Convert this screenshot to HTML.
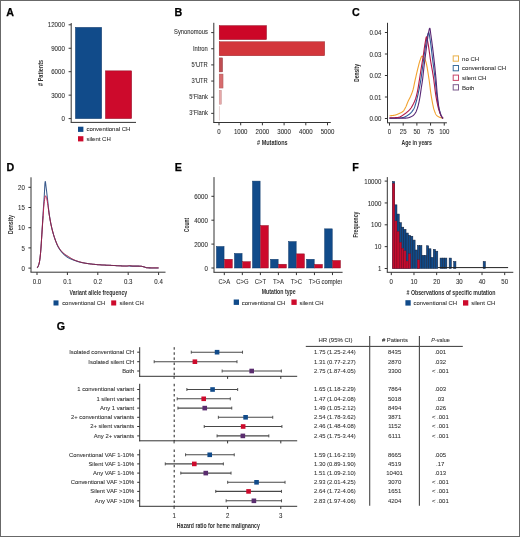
<!DOCTYPE html>
<html><head><meta charset="utf-8"><style>
html,body{margin:0;padding:0;background:#fff;width:520px;height:537px;overflow:hidden;}
svg{display:block;will-change:transform;}
text{font-family:"Liberation Sans", sans-serif;}
</style></head><body>
<svg width="520" height="537" viewBox="0 0 520 537" font-family='"Liberation Sans", sans-serif'>
<defs><clipPath id="clipE"><rect x="300" y="270" width="42.0" height="20"/></clipPath></defs>
<rect x="0" y="0" width="520" height="537" fill="#fff"/>
<text x="6.2" y="15.9" font-size="10.7" text-anchor="start" fill="#000" stroke="#000" stroke-width="0.25" font-weight="bold" >A</text>
<line x1="71.2" y1="23" x2="71.2" y2="122.4" stroke="#333" stroke-width="1" />
<line x1="70.7" y1="122.4" x2="136" y2="122.4" stroke="#333" stroke-width="1" />
<line x1="68.60000000000001" y1="118.6" x2="71.2" y2="118.6" stroke="#333" stroke-width="1" />
<text x="64.8" y="121.19999999999999" font-size="6.45" text-anchor="end" fill="#303030" stroke="#303030" stroke-width="0.08" font-weight="normal" textLength="3.39" lengthAdjust="spacingAndGlyphs" >0</text>
<line x1="68.60000000000001" y1="95.14999999999999" x2="71.2" y2="95.14999999999999" stroke="#333" stroke-width="1" />
<text x="64.8" y="97.74999999999999" font-size="6.45" text-anchor="end" fill="#303030" stroke="#303030" stroke-width="0.08" font-weight="normal" textLength="13.57" lengthAdjust="spacingAndGlyphs" >3000</text>
<line x1="68.60000000000001" y1="71.69999999999999" x2="71.2" y2="71.69999999999999" stroke="#333" stroke-width="1" />
<text x="64.8" y="74.29999999999998" font-size="6.45" text-anchor="end" fill="#303030" stroke="#303030" stroke-width="0.08" font-weight="normal" textLength="13.57" lengthAdjust="spacingAndGlyphs" >6000</text>
<line x1="68.60000000000001" y1="48.25" x2="71.2" y2="48.25" stroke="#333" stroke-width="1" />
<text x="64.8" y="50.85" font-size="6.45" text-anchor="end" fill="#303030" stroke="#303030" stroke-width="0.08" font-weight="normal" textLength="13.57" lengthAdjust="spacingAndGlyphs" >9000</text>
<line x1="68.60000000000001" y1="24.799999999999997" x2="71.2" y2="24.799999999999997" stroke="#333" stroke-width="1" />
<text x="64.8" y="27.4" font-size="6.45" text-anchor="end" fill="#303030" stroke="#303030" stroke-width="0.08" font-weight="normal" textLength="16.96" lengthAdjust="spacingAndGlyphs" >12000</text>
<rect x="75.45" y="27.394999999999996" width="26.2" height="91.205" fill="#114b8a" stroke="#0b3566" stroke-width="0.5"/>
<rect x="105.45" y="70.85" width="26.2" height="47.75" fill="#cd0a2c" stroke="#8e0c22" stroke-width="0.5"/>
<text transform="translate(43.2,72.9) rotate(-90)" x="0" y="0" font-size="7.6" text-anchor="middle" fill="#303030" font-weight="bold" textLength="26" lengthAdjust="spacingAndGlyphs"># Patients</text>
<rect x="78" y="126.7" width="5.4" height="5.2" fill="#114b8a" />
<text x="86.4" y="131.3" font-size="6.0" text-anchor="start" fill="#303030" stroke="#303030" stroke-width="0.08" font-weight="normal" textLength="44.02" lengthAdjust="spacingAndGlyphs" >conventional CH</text>
<rect x="78" y="136.2" width="5.4" height="5.2" fill="#cd0a2c" />
<text x="86.4" y="140.6" font-size="6.0" text-anchor="start" fill="#303030" stroke="#303030" stroke-width="0.08" font-weight="normal" textLength="24.34" lengthAdjust="spacingAndGlyphs" >silent CH</text>
<text x="174.6" y="15.9" font-size="10.7" text-anchor="start" fill="#000" stroke="#000" stroke-width="0.25" font-weight="bold" >B</text>
<line x1="213.8" y1="22.8" x2="213.8" y2="122.5" stroke="#333" stroke-width="1" />
<line x1="213.3" y1="122.5" x2="330.8" y2="122.5" stroke="#333" stroke-width="1" />
<line x1="211.20000000000002" y1="32.6" x2="213.8" y2="32.6" stroke="#333" stroke-width="1" />
<text x="207.8" y="34.4" font-size="6.6" text-anchor="end" fill="#303030" stroke="#303030" stroke-width="0.08" font-weight="normal" textLength="33.74" lengthAdjust="spacingAndGlyphs" >Synonomous</text>
<rect x="219.20" y="25.60" width="47.34" height="14.0" fill="#cc0627" stroke="#8a0a1e" stroke-width="0.45"/>
<line x1="211.20000000000002" y1="48.75" x2="213.8" y2="48.75" stroke="#333" stroke-width="1" />
<text x="207.8" y="50.55" font-size="6.6" text-anchor="end" fill="#303030" stroke="#303030" stroke-width="0.08" font-weight="normal" textLength="14.78" lengthAdjust="spacingAndGlyphs" >Intron</text>
<rect x="219.20" y="41.75" width="105.50" height="14.0" fill="#d3363b" stroke="#96242a" stroke-width="0.45"/>
<line x1="211.20000000000002" y1="64.9" x2="213.8" y2="64.9" stroke="#333" stroke-width="1" />
<text x="207.8" y="66.7" font-size="6.6" text-anchor="end" fill="#303030" stroke="#303030" stroke-width="0.08" font-weight="normal" textLength="16.2" lengthAdjust="spacingAndGlyphs" >5'UTR</text>
<rect x="219.20" y="57.90" width="3.40" height="14.0" fill="#bf4d52" stroke="#8e3a3e" stroke-width="0.45"/>
<line x1="211.20000000000002" y1="81.05" x2="213.8" y2="81.05" stroke="#333" stroke-width="1" />
<text x="207.8" y="82.85" font-size="6.6" text-anchor="end" fill="#303030" stroke="#303030" stroke-width="0.08" font-weight="normal" textLength="16.2" lengthAdjust="spacingAndGlyphs" >3'UTR</text>
<rect x="219.20" y="74.05" width="3.83" height="14.0" fill="#d76c6e" stroke="#a65456" stroke-width="0.45"/>
<line x1="211.20000000000002" y1="97.19999999999999" x2="213.8" y2="97.19999999999999" stroke="#333" stroke-width="1" />
<text x="207.8" y="98.99999999999999" font-size="6.6" text-anchor="end" fill="#303030" stroke="#303030" stroke-width="0.08" font-weight="normal" textLength="18.45" lengthAdjust="spacingAndGlyphs" >5'Flank</text>
<rect x="219.20" y="90.20" width="2.20" height="14.0" fill="#e6a7a8" stroke="#c08a8b" stroke-width="0.45"/>
<line x1="211.20000000000002" y1="113.35" x2="213.8" y2="113.35" stroke="#333" stroke-width="1" />
<text x="207.8" y="115.14999999999999" font-size="6.6" text-anchor="end" fill="#303030" stroke="#303030" stroke-width="0.08" font-weight="normal" textLength="18.45" lengthAdjust="spacingAndGlyphs" >3'Flank</text>
<rect x="219.20" y="106.35" width="0.50" height="14.0" fill="#ecd2d3" stroke="#d8bcbd" stroke-width="0.45"/>
<line x1="219.0" y1="122.5" x2="219.0" y2="125.3" stroke="#333" stroke-width="1" />
<text x="219.0" y="133.8" font-size="6.45" text-anchor="middle" fill="#303030" stroke="#303030" stroke-width="0.08" font-weight="normal" textLength="3.39" lengthAdjust="spacingAndGlyphs" >0</text>
<line x1="240.7" y1="122.5" x2="240.7" y2="125.3" stroke="#333" stroke-width="1" />
<text x="240.7" y="133.8" font-size="6.45" text-anchor="middle" fill="#303030" stroke="#303030" stroke-width="0.08" font-weight="normal" textLength="13.57" lengthAdjust="spacingAndGlyphs" >1000</text>
<line x1="262.4" y1="122.5" x2="262.4" y2="125.3" stroke="#333" stroke-width="1" />
<text x="262.4" y="133.8" font-size="6.45" text-anchor="middle" fill="#303030" stroke="#303030" stroke-width="0.08" font-weight="normal" textLength="13.57" lengthAdjust="spacingAndGlyphs" >2000</text>
<line x1="284.1" y1="122.5" x2="284.1" y2="125.3" stroke="#333" stroke-width="1" />
<text x="284.1" y="133.8" font-size="6.45" text-anchor="middle" fill="#303030" stroke="#303030" stroke-width="0.08" font-weight="normal" textLength="13.57" lengthAdjust="spacingAndGlyphs" >3000</text>
<line x1="305.8" y1="122.5" x2="305.8" y2="125.3" stroke="#333" stroke-width="1" />
<text x="305.8" y="133.8" font-size="6.45" text-anchor="middle" fill="#303030" stroke="#303030" stroke-width="0.08" font-weight="normal" textLength="13.57" lengthAdjust="spacingAndGlyphs" >4000</text>
<line x1="327.5" y1="122.5" x2="327.5" y2="125.3" stroke="#333" stroke-width="1" />
<text x="327.5" y="133.8" font-size="6.45" text-anchor="middle" fill="#303030" stroke="#303030" stroke-width="0.08" font-weight="normal" textLength="13.57" lengthAdjust="spacingAndGlyphs" >5000</text>
<text x="272.3" y="144.6" font-size="7.2" text-anchor="middle" fill="#303030" stroke="#303030" stroke-width="0" font-weight="bold" textLength="30.5" lengthAdjust="spacingAndGlyphs" ># Mutations</text>
<text x="352.0" y="15.9" font-size="10.7" text-anchor="start" fill="#000" stroke="#000" stroke-width="0.25" font-weight="bold" >C</text>
<line x1="387.5" y1="22.8" x2="387.5" y2="122.8" stroke="#333" stroke-width="1" />
<line x1="387.0" y1="122.8" x2="446.9" y2="122.8" stroke="#333" stroke-width="1" />
<line x1="384.9" y1="118.5" x2="387.5" y2="118.5" stroke="#333" stroke-width="1" />
<text x="381.4" y="121.1" font-size="6.45" text-anchor="end" fill="#303030" stroke="#303030" stroke-width="0.08" font-weight="normal" textLength="11.87" lengthAdjust="spacingAndGlyphs" >0.00</text>
<line x1="384.9" y1="97.0" x2="387.5" y2="97.0" stroke="#333" stroke-width="1" />
<text x="381.4" y="99.6" font-size="6.45" text-anchor="end" fill="#303030" stroke="#303030" stroke-width="0.08" font-weight="normal" textLength="11.87" lengthAdjust="spacingAndGlyphs" >0.01</text>
<line x1="384.9" y1="75.5" x2="387.5" y2="75.5" stroke="#333" stroke-width="1" />
<text x="381.4" y="78.1" font-size="6.45" text-anchor="end" fill="#303030" stroke="#303030" stroke-width="0.08" font-weight="normal" textLength="11.87" lengthAdjust="spacingAndGlyphs" >0.02</text>
<line x1="384.9" y1="54.0" x2="387.5" y2="54.0" stroke="#333" stroke-width="1" />
<text x="381.4" y="56.6" font-size="6.45" text-anchor="end" fill="#303030" stroke="#303030" stroke-width="0.08" font-weight="normal" textLength="11.87" lengthAdjust="spacingAndGlyphs" >0.03</text>
<line x1="384.9" y1="32.5" x2="387.5" y2="32.5" stroke="#333" stroke-width="1" />
<text x="381.4" y="35.1" font-size="6.45" text-anchor="end" fill="#303030" stroke="#303030" stroke-width="0.08" font-weight="normal" textLength="11.87" lengthAdjust="spacingAndGlyphs" >0.04</text>
<line x1="389.5" y1="122.8" x2="389.5" y2="125.6" stroke="#333" stroke-width="1" />
<text x="389.5" y="133.9" font-size="6.45" text-anchor="middle" fill="#303030" stroke="#303030" stroke-width="0.08" font-weight="normal" textLength="3.39" lengthAdjust="spacingAndGlyphs" >0</text>
<line x1="403.1875" y1="122.8" x2="403.1875" y2="125.6" stroke="#333" stroke-width="1" />
<text x="403.1875" y="133.9" font-size="6.45" text-anchor="middle" fill="#303030" stroke="#303030" stroke-width="0.08" font-weight="normal" textLength="6.79" lengthAdjust="spacingAndGlyphs" >25</text>
<line x1="416.875" y1="122.8" x2="416.875" y2="125.6" stroke="#333" stroke-width="1" />
<text x="416.875" y="133.9" font-size="6.45" text-anchor="middle" fill="#303030" stroke="#303030" stroke-width="0.08" font-weight="normal" textLength="6.79" lengthAdjust="spacingAndGlyphs" >50</text>
<line x1="430.5625" y1="122.8" x2="430.5625" y2="125.6" stroke="#333" stroke-width="1" />
<text x="430.5625" y="133.9" font-size="6.45" text-anchor="middle" fill="#303030" stroke="#303030" stroke-width="0.08" font-weight="normal" textLength="6.79" lengthAdjust="spacingAndGlyphs" >75</text>
<line x1="444.25" y1="122.8" x2="444.25" y2="125.6" stroke="#333" stroke-width="1" />
<text x="444.25" y="133.9" font-size="6.45" text-anchor="middle" fill="#303030" stroke="#303030" stroke-width="0.08" font-weight="normal" textLength="10.18" lengthAdjust="spacingAndGlyphs" >100</text>
<text x="416.7" y="145.0" font-size="7.2" text-anchor="middle" fill="#303030" stroke="#303030" stroke-width="0" font-weight="bold" textLength="30.5" lengthAdjust="spacingAndGlyphs" >Age in years</text>
<text transform="translate(358.6,72.9) rotate(-90)" x="0" y="0" font-size="7.2" text-anchor="middle" fill="#303030" font-weight="bold" textLength="17.7" lengthAdjust="spacingAndGlyphs">Density</text>
<path d="M389.50,115.70 L389.68,115.70 L389.86,115.70 L390.04,115.70 L390.22,115.69 L390.40,115.68 L390.58,115.68 L390.76,115.67 L390.94,115.65 L391.12,115.64 L391.29,115.63 L391.47,115.61 L391.65,115.59 L391.83,115.58 L392.01,115.56 L392.19,115.54 L392.37,115.52 L392.55,115.50 L392.73,115.48 L392.91,115.45 L393.09,115.43 L393.27,115.41 L393.45,115.38 L393.63,115.36 L393.81,115.33 L393.99,115.31 L394.17,115.28 L394.35,115.25 L394.52,115.22 L394.70,115.19 L394.88,115.15 L395.06,115.11 L395.24,115.06 L395.42,115.01 L395.60,114.96 L395.78,114.90 L395.96,114.84 L396.14,114.78 L396.32,114.72 L396.50,114.65 L396.68,114.58 L396.86,114.51 L397.04,114.44 L397.22,114.37 L397.40,114.29 L397.58,114.22 L397.75,114.14 L397.93,114.06 L398.11,113.98 L398.29,113.90 L398.47,113.82 L398.65,113.75 L398.83,113.67 L399.01,113.59 L399.19,113.51 L399.37,113.43 L399.55,113.35 L399.73,113.27 L399.91,113.19 L400.09,113.11 L400.27,113.03 L400.45,112.94 L400.63,112.86 L400.81,112.77 L400.98,112.68 L401.16,112.58 L401.34,112.49 L401.52,112.38 L401.70,112.28 L401.88,112.17 L402.06,112.05 L402.24,111.93 L402.42,111.80 L402.60,111.67 L402.78,111.53 L402.96,111.39 L403.14,111.23 L403.32,111.07 L403.50,110.87 L403.68,110.66 L403.86,110.41 L404.04,110.15 L404.21,109.87 L404.39,109.57 L404.57,109.26 L404.75,108.93 L404.93,108.60 L405.11,108.26 L405.29,107.91 L405.47,107.56 L405.65,107.21 L405.83,106.86 L406.01,106.48 L406.19,106.07 L406.37,105.64 L406.55,105.20 L406.73,104.75 L406.91,104.29 L407.09,103.82 L407.27,103.36 L407.44,102.90 L407.62,102.45 L407.80,102.01 L407.98,101.60 L408.16,101.20 L408.34,100.82 L408.52,100.45 L408.70,100.09 L408.88,99.75 L409.06,99.40 L409.24,99.07 L409.42,98.73 L409.60,98.39 L409.78,98.04 L409.96,97.68 L410.14,97.32 L410.32,96.94 L410.50,96.54 L410.67,96.13 L410.85,95.72 L411.03,95.30 L411.21,94.87 L411.39,94.43 L411.57,93.99 L411.75,93.53 L411.93,93.05 L412.11,92.57 L412.29,92.06 L412.47,91.53 L412.65,90.98 L412.83,90.41 L413.01,89.81 L413.19,89.17 L413.37,88.45 L413.55,87.68 L413.73,86.85 L413.90,85.99 L414.08,85.11 L414.26,84.21 L414.44,83.32 L414.62,82.44 L414.80,81.59 L414.98,80.77 L415.16,79.97 L415.34,79.18 L415.52,78.38 L415.70,77.58 L415.88,76.79 L416.06,76.00 L416.24,75.21 L416.42,74.43 L416.60,73.65 L416.78,72.88 L416.96,72.12 L417.14,71.36 L417.31,70.62 L417.49,69.88 L417.67,69.15 L417.85,68.44 L418.03,67.73 L418.21,67.02 L418.39,66.30 L418.57,65.58 L418.75,64.87 L418.93,64.17 L419.11,63.48 L419.29,62.81 L419.47,62.17 L419.65,61.55 L419.83,60.98 L420.01,60.44 L420.19,59.95 L420.37,59.46 L420.54,58.96 L420.72,58.45 L420.90,57.96 L421.08,57.49 L421.26,57.07 L421.44,56.72 L421.62,56.43 L421.80,56.24 L421.98,56.15 L422.16,56.16 L422.34,56.20 L422.52,56.27 L422.70,56.37 L422.88,56.49 L423.06,56.63 L423.24,56.78 L423.42,56.94 L423.60,57.11 L423.77,57.28 L423.95,57.49 L424.13,57.73 L424.31,58.01 L424.49,58.33 L424.67,58.68 L424.85,59.07 L425.03,59.48 L425.21,59.92 L425.39,60.38 L425.57,60.87 L425.75,61.38 L425.93,61.92 L426.11,62.55 L426.29,63.25 L426.47,64.03 L426.65,64.87 L426.83,65.77 L427.00,66.72 L427.18,67.72 L427.36,68.76 L427.54,69.84 L427.72,70.94 L427.90,72.07 L428.08,73.21 L428.26,74.36 L428.44,75.51 L428.62,76.65 L428.80,77.79 L428.98,78.97 L429.16,80.22 L429.34,81.55 L429.52,82.92 L429.70,84.34 L429.88,85.78 L430.06,87.22 L430.23,88.66 L430.41,90.07 L430.59,91.45 L430.77,92.77 L430.95,94.02 L431.13,95.18 L431.31,96.25 L431.49,97.31 L431.67,98.36 L431.85,99.40 L432.03,100.42 L432.21,101.42 L432.39,102.39 L432.57,103.34 L432.75,104.26 L432.93,105.15 L433.11,105.99 L433.29,106.80 L433.46,107.56 L433.64,108.27 L433.82,108.93 L434.00,109.53 L434.18,110.08 L434.36,110.61 L434.54,111.12 L434.72,111.61 L434.90,112.09 L435.08,112.54 L435.26,112.97 L435.44,113.38 L435.62,113.76 L435.80,114.11 L435.98,114.43 L436.16,114.72 L436.34,114.98 L436.52,115.20 L436.69,115.39 L436.87,115.56 L437.05,115.73 L437.23,115.88 L437.41,116.03 L437.59,116.16 L437.77,116.29 L437.95,116.41 L438.13,116.53 L438.31,116.64 L438.49,116.74 L438.67,116.83 L438.85,116.92 L439.03,117.01 L439.21,117.09 L439.39,117.17 L439.57,117.24 L439.75,117.32 L439.92,117.39 L440.10,117.46 L440.28,117.53 L440.46,117.60 L440.64,117.67 L440.82,117.73 L441.00,117.79 L441.18,117.85 L441.36,117.91 L441.54,117.97 L441.72,118.02 L441.90,118.06 L442.08,118.11 L442.26,118.15 L442.44,118.19 L442.62,118.22 L442.80,118.24 L442.98,118.27 L443.15,118.28" fill="none" stroke="#f2a22e" stroke-width="1.1" stroke-linejoin="round"/>
<path d="M389.50,118.28 L389.68,118.28 L389.86,118.28 L390.04,118.28 L390.22,118.28 L390.40,118.28 L390.58,118.28 L390.76,118.28 L390.94,118.28 L391.12,118.27 L391.29,118.27 L391.47,118.27 L391.65,118.27 L391.83,118.26 L392.01,118.26 L392.19,118.26 L392.37,118.25 L392.55,118.25 L392.73,118.24 L392.91,118.24 L393.09,118.23 L393.27,118.23 L393.45,118.22 L393.63,118.22 L393.81,118.21 L393.99,118.21 L394.17,118.20 L394.35,118.19 L394.52,118.19 L394.70,118.18 L394.88,118.17 L395.06,118.16 L395.24,118.16 L395.42,118.15 L395.60,118.14 L395.78,118.13 L395.96,118.12 L396.14,118.11 L396.32,118.10 L396.50,118.09 L396.68,118.08 L396.86,118.07 L397.04,118.06 L397.22,118.05 L397.40,118.04 L397.58,118.03 L397.75,118.02 L397.93,118.01 L398.11,117.99 L398.29,117.98 L398.47,117.97 L398.65,117.96 L398.83,117.94 L399.01,117.93 L399.19,117.92 L399.37,117.90 L399.55,117.89 L399.73,117.88 L399.91,117.86 L400.09,117.85 L400.27,117.83 L400.45,117.82 L400.63,117.80 L400.81,117.79 L400.98,117.77 L401.16,117.75 L401.34,117.74 L401.52,117.72 L401.70,117.70 L401.88,117.69 L402.06,117.67 L402.24,117.65 L402.42,117.63 L402.60,117.61 L402.78,117.58 L402.96,117.55 L403.14,117.51 L403.32,117.47 L403.50,117.43 L403.68,117.37 L403.86,117.32 L404.04,117.26 L404.21,117.19 L404.39,117.12 L404.57,117.05 L404.75,116.98 L404.93,116.90 L405.11,116.81 L405.29,116.73 L405.47,116.64 L405.65,116.54 L405.83,116.45 L406.01,116.35 L406.19,116.25 L406.37,116.14 L406.55,116.04 L406.73,115.93 L406.91,115.82 L407.09,115.70 L407.27,115.59 L407.44,115.47 L407.62,115.35 L407.80,115.23 L407.98,115.11 L408.16,114.99 L408.34,114.87 L408.52,114.74 L408.70,114.62 L408.88,114.49 L409.06,114.37 L409.24,114.24 L409.42,114.10 L409.60,113.96 L409.78,113.82 L409.96,113.67 L410.14,113.51 L410.32,113.35 L410.50,113.18 L410.67,113.01 L410.85,112.83 L411.03,112.64 L411.21,112.45 L411.39,112.25 L411.57,112.04 L411.75,111.83 L411.93,111.61 L412.11,111.38 L412.29,111.14 L412.47,110.90 L412.65,110.65 L412.83,110.39 L413.01,110.12 L413.19,109.84 L413.37,109.55 L413.55,109.26 L413.73,108.95 L413.90,108.63 L414.08,108.29 L414.26,107.90 L414.44,107.46 L414.62,106.99 L414.80,106.48 L414.98,105.93 L415.16,105.36 L415.34,104.77 L415.52,104.16 L415.70,103.53 L415.88,102.90 L416.06,102.26 L416.24,101.62 L416.42,100.98 L416.60,100.32 L416.78,99.63 L416.96,98.93 L417.14,98.20 L417.31,97.45 L417.49,96.69 L417.67,95.91 L417.85,95.11 L418.03,94.30 L418.21,93.48 L418.39,92.65 L418.57,91.81 L418.75,90.96 L418.93,90.11 L419.11,89.24 L419.29,88.36 L419.47,87.47 L419.65,86.56 L419.83,85.63 L420.01,84.67 L420.19,83.69 L420.37,82.69 L420.54,81.65 L420.72,80.58 L420.90,79.47 L421.08,78.30 L421.26,77.07 L421.44,75.79 L421.62,74.47 L421.80,73.12 L421.98,71.74 L422.16,70.36 L422.34,68.97 L422.52,67.59 L422.70,66.23 L422.88,64.90 L423.06,63.58 L423.24,62.24 L423.42,60.90 L423.60,59.56 L423.77,58.22 L423.95,56.88 L424.13,55.56 L424.31,54.26 L424.49,52.98 L424.67,51.74 L424.85,50.52 L425.03,49.31 L425.21,48.08 L425.39,46.85 L425.57,45.63 L425.75,44.44 L425.93,43.29 L426.11,42.19 L426.29,41.15 L426.47,40.19 L426.65,39.32 L426.83,38.54 L427.00,37.74 L427.18,36.93 L427.36,36.13 L427.54,35.36 L427.72,34.64 L427.90,34.00 L428.08,33.44 L428.26,32.99 L428.44,32.68 L428.62,32.52 L428.80,32.56 L428.98,32.97 L429.16,33.69 L429.34,34.64 L429.52,35.74 L429.70,36.92 L429.88,38.09 L430.06,39.19 L430.23,40.31 L430.41,41.51 L430.59,42.79 L430.77,44.12 L430.95,45.51 L431.13,46.95 L431.31,48.42 L431.49,49.92 L431.67,51.44 L431.85,52.97 L432.03,54.49 L432.21,56.01 L432.39,57.51 L432.57,58.97 L432.75,60.41 L432.93,61.81 L433.11,63.19 L433.29,64.56 L433.46,65.93 L433.64,67.30 L433.82,68.67 L434.00,70.05 L434.18,71.44 L434.36,72.86 L434.54,74.30 L434.72,75.78 L434.90,77.29 L435.08,78.87 L435.26,80.55 L435.44,82.31 L435.62,84.12 L435.80,85.95 L435.98,87.78 L436.16,89.58 L436.34,91.30 L436.52,92.94 L436.69,94.46 L436.87,95.82 L437.05,97.11 L437.23,98.38 L437.41,99.63 L437.59,100.84 L437.77,102.02 L437.95,103.16 L438.13,104.26 L438.31,105.30 L438.49,106.28 L438.67,107.20 L438.85,108.04 L439.03,108.81 L439.21,109.50 L439.39,110.11 L439.57,110.70 L439.75,111.28 L439.92,111.86 L440.10,112.43 L440.28,112.98 L440.46,113.53 L440.64,114.05 L440.82,114.56 L441.00,115.05 L441.18,115.51 L441.36,115.95 L441.54,116.36 L441.72,116.73 L441.90,117.07 L442.08,117.38 L442.26,117.64 L442.44,117.86 L442.62,118.04 L442.80,118.17 L442.98,118.26 L443.15,118.28" fill="none" stroke="#2c5a98" stroke-width="1.1" stroke-linejoin="round"/>
<path d="M389.50,117.86 L389.68,117.85 L389.86,117.85 L390.04,117.85 L390.22,117.85 L390.40,117.85 L390.58,117.85 L390.76,117.85 L390.94,117.84 L391.12,117.84 L391.29,117.84 L391.47,117.83 L391.65,117.83 L391.83,117.82 L392.01,117.82 L392.19,117.81 L392.37,117.81 L392.55,117.80 L392.73,117.79 L392.91,117.79 L393.09,117.78 L393.27,117.77 L393.45,117.76 L393.63,117.76 L393.81,117.75 L393.99,117.74 L394.17,117.73 L394.35,117.72 L394.52,117.71 L394.70,117.70 L394.88,117.69 L395.06,117.68 L395.24,117.67 L395.42,117.65 L395.60,117.64 L395.78,117.63 L395.96,117.62 L396.14,117.60 L396.32,117.59 L396.50,117.58 L396.68,117.56 L396.86,117.55 L397.04,117.53 L397.22,117.52 L397.40,117.50 L397.58,117.49 L397.75,117.47 L397.93,117.46 L398.11,117.44 L398.29,117.42 L398.47,117.40 L398.65,117.37 L398.83,117.33 L399.01,117.28 L399.19,117.23 L399.37,117.17 L399.55,117.11 L399.73,117.04 L399.91,116.96 L400.09,116.88 L400.27,116.79 L400.45,116.70 L400.63,116.60 L400.81,116.50 L400.98,116.40 L401.16,116.29 L401.34,116.18 L401.52,116.07 L401.70,115.95 L401.88,115.84 L402.06,115.72 L402.24,115.60 L402.42,115.48 L402.60,115.35 L402.78,115.23 L402.96,115.11 L403.14,114.99 L403.32,114.87 L403.50,114.75 L403.68,114.63 L403.86,114.51 L404.04,114.40 L404.21,114.28 L404.39,114.16 L404.57,114.04 L404.75,113.92 L404.93,113.79 L405.11,113.66 L405.29,113.53 L405.47,113.40 L405.65,113.26 L405.83,113.12 L406.01,112.98 L406.19,112.84 L406.37,112.70 L406.55,112.55 L406.73,112.40 L406.91,112.25 L407.09,112.10 L407.27,111.94 L407.44,111.79 L407.62,111.63 L407.80,111.47 L407.98,111.31 L408.16,111.15 L408.34,110.98 L408.52,110.82 L408.70,110.65 L408.88,110.48 L409.06,110.30 L409.24,110.12 L409.42,109.94 L409.60,109.75 L409.78,109.56 L409.96,109.36 L410.14,109.15 L410.32,108.94 L410.50,108.72 L410.67,108.48 L410.85,108.24 L411.03,107.99 L411.21,107.72 L411.39,107.44 L411.57,107.16 L411.75,106.86 L411.93,106.56 L412.11,106.25 L412.29,105.93 L412.47,105.60 L412.65,105.27 L412.83,104.93 L413.01,104.59 L413.19,104.25 L413.37,103.90 L413.55,103.55 L413.73,103.19 L413.90,102.82 L414.08,102.44 L414.26,102.06 L414.44,101.65 L414.62,101.24 L414.80,100.81 L414.98,100.36 L415.16,99.89 L415.34,99.41 L415.52,98.90 L415.70,98.35 L415.88,97.78 L416.06,97.17 L416.24,96.52 L416.42,95.84 L416.60,95.14 L416.78,94.40 L416.96,93.64 L417.14,92.85 L417.31,92.04 L417.49,91.21 L417.67,90.34 L417.85,89.41 L418.03,88.40 L418.21,87.34 L418.39,86.24 L418.57,85.12 L418.75,83.98 L418.93,82.84 L419.11,81.71 L419.29,80.60 L419.47,79.47 L419.65,78.33 L419.83,77.18 L420.01,76.02 L420.19,74.86 L420.37,73.69 L420.54,72.53 L420.72,71.36 L420.90,70.21 L421.08,69.06 L421.26,67.93 L421.44,66.81 L421.62,65.71 L421.80,64.61 L421.98,63.53 L422.16,62.44 L422.34,61.36 L422.52,60.27 L422.70,59.17 L422.88,58.06 L423.06,56.93 L423.24,55.79 L423.42,54.61 L423.60,53.38 L423.77,52.10 L423.95,50.80 L424.13,49.50 L424.31,48.21 L424.49,46.96 L424.67,45.75 L424.85,44.61 L425.03,43.56 L425.21,42.56 L425.39,41.49 L425.57,40.40 L425.75,39.35 L425.93,38.40 L426.11,37.62 L426.29,37.07 L426.47,36.81 L426.65,36.90 L426.83,37.29 L427.00,37.93 L427.18,38.76 L427.36,39.69 L427.54,40.68 L427.72,41.65 L427.90,42.56 L428.08,43.53 L428.26,44.57 L428.44,45.68 L428.62,46.85 L428.80,48.07 L428.98,49.32 L429.16,50.60 L429.34,51.90 L429.52,53.20 L429.70,54.51 L429.88,55.80 L430.06,57.07 L430.23,58.31 L430.41,59.50 L430.59,60.64 L430.77,61.75 L430.95,62.82 L431.13,63.87 L431.31,64.91 L431.49,65.93 L431.67,66.94 L431.85,67.94 L432.03,68.95 L432.21,69.95 L432.39,70.97 L432.57,72.00 L432.75,73.05 L432.93,74.12 L433.11,75.21 L433.29,76.34 L433.46,77.51 L433.64,78.72 L433.82,80.02 L434.00,81.39 L434.18,82.81 L434.36,84.27 L434.54,85.74 L434.72,87.23 L434.90,88.69 L435.08,90.13 L435.26,91.52 L435.44,92.85 L435.62,94.10 L435.80,95.26 L435.98,96.32 L436.16,97.35 L436.34,98.36 L436.52,99.36 L436.69,100.33 L436.87,101.28 L437.05,102.20 L437.23,103.10 L437.41,103.97 L437.59,104.81 L437.77,105.62 L437.95,106.40 L438.13,107.15 L438.31,107.86 L438.49,108.54 L438.67,109.18 L438.85,109.78 L439.03,110.35 L439.21,110.91 L439.39,111.45 L439.57,111.97 L439.75,112.48 L439.92,112.96 L440.10,113.43 L440.28,113.88 L440.46,114.31 L440.64,114.71 L440.82,115.10 L441.00,115.46 L441.18,115.79 L441.36,116.11 L441.54,116.39 L441.72,116.66 L441.90,116.92 L442.08,117.17 L442.26,117.40 L442.44,117.62 L442.62,117.81 L442.80,117.99 L442.98,118.15 L443.15,118.28" fill="none" stroke="#b01848" stroke-width="1.1" stroke-linejoin="round"/>
<path d="M389.50,118.28 L389.68,118.28 L389.86,118.28 L390.04,118.28 L390.22,118.28 L390.40,118.28 L390.58,118.28 L390.76,118.28 L390.94,118.28 L391.12,118.28 L391.29,118.28 L391.47,118.28 L391.65,118.28 L391.83,118.28 L392.01,118.28 L392.19,118.28 L392.37,118.28 L392.55,118.28 L392.73,118.28 L392.91,118.28 L393.09,118.28 L393.27,118.28 L393.45,118.28 L393.63,118.27 L393.81,118.27 L393.99,118.27 L394.17,118.27 L394.35,118.27 L394.52,118.27 L394.70,118.27 L394.88,118.27 L395.06,118.27 L395.24,118.26 L395.42,118.26 L395.60,118.26 L395.78,118.26 L395.96,118.26 L396.14,118.26 L396.32,118.26 L396.50,118.25 L396.68,118.25 L396.86,118.25 L397.04,118.25 L397.22,118.25 L397.40,118.25 L397.58,118.24 L397.75,118.24 L397.93,118.24 L398.11,118.24 L398.29,118.23 L398.47,118.23 L398.65,118.23 L398.83,118.23 L399.01,118.23 L399.19,118.22 L399.37,118.22 L399.55,118.22 L399.73,118.22 L399.91,118.21 L400.09,118.21 L400.27,118.21 L400.45,118.20 L400.63,118.20 L400.81,118.20 L400.98,118.20 L401.16,118.19 L401.34,118.19 L401.52,118.19 L401.70,118.18 L401.88,118.18 L402.06,118.18 L402.24,118.17 L402.42,118.17 L402.60,118.16 L402.78,118.16 L402.96,118.16 L403.14,118.15 L403.32,118.15 L403.50,118.15 L403.68,118.14 L403.86,118.14 L404.04,118.13 L404.21,118.13 L404.39,118.13 L404.57,118.12 L404.75,118.12 L404.93,118.11 L405.11,118.11 L405.29,118.10 L405.47,118.10 L405.65,118.09 L405.83,118.09 L406.01,118.08 L406.19,118.08 L406.37,118.07 L406.55,118.07 L406.73,118.06 L406.91,118.04 L407.09,118.03 L407.27,118.00 L407.44,117.98 L407.62,117.95 L407.80,117.91 L407.98,117.87 L408.16,117.83 L408.34,117.78 L408.52,117.73 L408.70,117.68 L408.88,117.63 L409.06,117.57 L409.24,117.50 L409.42,117.44 L409.60,117.37 L409.78,117.30 L409.96,117.23 L410.14,117.15 L410.32,117.07 L410.50,116.99 L410.67,116.91 L410.85,116.83 L411.03,116.74 L411.21,116.65 L411.39,116.57 L411.57,116.47 L411.75,116.38 L411.93,116.29 L412.11,116.19 L412.29,116.10 L412.47,115.99 L412.65,115.88 L412.83,115.75 L413.01,115.61 L413.19,115.47 L413.37,115.31 L413.55,115.14 L413.73,114.97 L413.90,114.78 L414.08,114.58 L414.26,114.38 L414.44,114.16 L414.62,113.94 L414.80,113.70 L414.98,113.46 L415.16,113.21 L415.34,112.94 L415.52,112.67 L415.70,112.38 L415.88,112.05 L416.06,111.68 L416.24,111.29 L416.42,110.86 L416.60,110.41 L416.78,109.93 L416.96,109.43 L417.14,108.90 L417.31,108.36 L417.49,107.80 L417.67,107.22 L417.85,106.64 L418.03,106.03 L418.21,105.39 L418.39,104.69 L418.57,103.95 L418.75,103.17 L418.93,102.35 L419.11,101.50 L419.29,100.61 L419.47,99.69 L419.65,98.75 L419.83,97.73 L420.01,96.64 L420.19,95.48 L420.37,94.28 L420.54,93.05 L420.72,91.80 L420.90,90.55 L421.08,89.33 L421.26,88.14 L421.44,86.99 L421.62,85.88 L421.80,84.77 L421.98,83.65 L422.16,82.49 L422.34,81.28 L422.52,79.98 L422.70,78.57 L422.88,77.05 L423.06,75.45 L423.24,73.79 L423.42,72.11 L423.60,70.44 L423.77,68.80 L423.95,67.23 L424.13,65.72 L424.31,64.25 L424.49,62.80 L424.67,61.36 L424.85,59.94 L425.03,58.53 L425.21,57.12 L425.39,55.71 L425.57,54.30 L425.75,52.89 L425.93,51.48 L426.11,50.07 L426.29,48.67 L426.47,47.29 L426.65,45.92 L426.83,44.57 L427.00,43.24 L427.18,41.90 L427.36,40.52 L427.54,39.13 L427.72,37.76 L427.90,36.45 L428.08,35.22 L428.26,34.10 L428.44,33.13 L428.62,32.26 L428.80,31.37 L428.98,30.51 L429.16,29.71 L429.34,29.03 L429.52,28.53 L429.70,28.24 L429.88,28.27 L430.06,28.87 L430.23,29.95 L430.41,31.31 L430.59,32.79 L430.77,34.20 L430.95,35.44 L431.13,36.69 L431.31,37.96 L431.49,39.24 L431.67,40.55 L431.85,41.89 L432.03,43.24 L432.21,44.61 L432.39,46.00 L432.57,47.42 L432.75,48.85 L432.93,50.30 L433.11,51.77 L433.29,53.26 L433.46,54.77 L433.64,56.30 L433.82,57.85 L434.00,59.41 L434.18,60.99 L434.36,62.61 L434.54,64.26 L434.72,65.96 L434.90,67.68 L435.08,69.45 L435.26,71.25 L435.44,73.08 L435.62,74.94 L435.80,76.84 L435.98,78.80 L436.16,80.90 L436.34,83.12 L436.52,85.40 L436.69,87.68 L436.87,89.91 L437.05,92.04 L437.23,94.01 L437.41,95.77 L437.59,97.41 L437.77,99.02 L437.95,100.59 L438.13,102.10 L438.31,103.56 L438.49,104.93 L438.67,106.21 L438.85,107.39 L439.03,108.45 L439.21,109.38 L439.39,110.17 L439.57,110.90 L439.75,111.59 L439.92,112.24 L440.10,112.86 L440.28,113.43 L440.46,113.97 L440.64,114.47 L440.82,114.93 L441.00,115.35 L441.18,115.74 L441.36,116.09 L441.54,116.40 L441.72,116.69 L441.90,116.96 L442.08,117.23 L442.26,117.47 L442.44,117.69 L442.62,117.89 L442.80,118.06 L442.98,118.19 L443.15,118.28" fill="none" stroke="#582673" stroke-width="1.1" stroke-linejoin="round"/>
<rect x="453.2" y="55.9" width="5.3" height="5.3" fill="none" stroke="#e8b04a" stroke-width="1"/>
<text x="462.1" y="60.699999999999996" font-size="6.0" text-anchor="start" fill="#303030" stroke="#303030" stroke-width="0.08" font-weight="normal" textLength="17.01" lengthAdjust="spacingAndGlyphs" >no CH</text>
<rect x="453.2" y="65.5" width="5.3" height="5.3" fill="none" stroke="#3c6e9c" stroke-width="1"/>
<text x="462.1" y="70.3" font-size="6.0" text-anchor="start" fill="#303030" stroke="#303030" stroke-width="0.08" font-weight="normal" textLength="44.02" lengthAdjust="spacingAndGlyphs" >conventional CH</text>
<rect x="453.2" y="75.1" width="5.3" height="5.3" fill="none" stroke="#c8486a" stroke-width="1"/>
<text x="462.1" y="79.89999999999999" font-size="6.0" text-anchor="start" fill="#303030" stroke="#303030" stroke-width="0.08" font-weight="normal" textLength="24.34" lengthAdjust="spacingAndGlyphs" >silent CH</text>
<rect x="453.2" y="84.69999999999999" width="5.3" height="5.3" fill="none" stroke="#7a5a8c" stroke-width="1"/>
<text x="462.1" y="89.49999999999999" font-size="6.0" text-anchor="start" fill="#303030" stroke="#303030" stroke-width="0.08" font-weight="normal" textLength="12.34" lengthAdjust="spacingAndGlyphs" >Both</text>
<text x="6.6" y="171.3" font-size="10.7" text-anchor="start" fill="#000" stroke="#000" stroke-width="0.25" font-weight="bold" >D</text>
<line x1="31.0" y1="177.3" x2="31.0" y2="272.2" stroke="#333" stroke-width="1" />
<line x1="30.5" y1="272.2" x2="165.5" y2="272.2" stroke="#333" stroke-width="1" />
<line x1="28.4" y1="268.1" x2="31.0" y2="268.1" stroke="#333" stroke-width="1" />
<text x="24.8" y="270.70000000000005" font-size="6.45" text-anchor="end" fill="#303030" stroke="#303030" stroke-width="0.08" font-weight="normal" textLength="3.39" lengthAdjust="spacingAndGlyphs" >0</text>
<line x1="28.4" y1="247.90000000000003" x2="31.0" y2="247.90000000000003" stroke="#333" stroke-width="1" />
<text x="24.8" y="250.50000000000003" font-size="6.45" text-anchor="end" fill="#303030" stroke="#303030" stroke-width="0.08" font-weight="normal" textLength="3.39" lengthAdjust="spacingAndGlyphs" >5</text>
<line x1="28.4" y1="227.70000000000002" x2="31.0" y2="227.70000000000002" stroke="#333" stroke-width="1" />
<text x="24.8" y="230.3" font-size="6.45" text-anchor="end" fill="#303030" stroke="#303030" stroke-width="0.08" font-weight="normal" textLength="6.79" lengthAdjust="spacingAndGlyphs" >10</text>
<line x1="28.4" y1="207.5" x2="31.0" y2="207.5" stroke="#333" stroke-width="1" />
<text x="24.8" y="210.1" font-size="6.45" text-anchor="end" fill="#303030" stroke="#303030" stroke-width="0.08" font-weight="normal" textLength="6.79" lengthAdjust="spacingAndGlyphs" >15</text>
<line x1="28.4" y1="187.3" x2="31.0" y2="187.3" stroke="#333" stroke-width="1" />
<text x="24.8" y="189.9" font-size="6.45" text-anchor="end" fill="#303030" stroke="#303030" stroke-width="0.08" font-weight="normal" textLength="6.79" lengthAdjust="spacingAndGlyphs" >20</text>
<line x1="37.0" y1="272.2" x2="37.0" y2="275.0" stroke="#333" stroke-width="1" />
<text x="37.0" y="283.5" font-size="6.45" text-anchor="middle" fill="#303030" stroke="#303030" stroke-width="0.08" font-weight="normal" textLength="8.48" lengthAdjust="spacingAndGlyphs" >0.0</text>
<line x1="67.4" y1="272.2" x2="67.4" y2="275.0" stroke="#333" stroke-width="1" />
<text x="67.4" y="283.5" font-size="6.45" text-anchor="middle" fill="#303030" stroke="#303030" stroke-width="0.08" font-weight="normal" textLength="8.48" lengthAdjust="spacingAndGlyphs" >0.1</text>
<line x1="97.8" y1="272.2" x2="97.8" y2="275.0" stroke="#333" stroke-width="1" />
<text x="97.8" y="283.5" font-size="6.45" text-anchor="middle" fill="#303030" stroke="#303030" stroke-width="0.08" font-weight="normal" textLength="8.48" lengthAdjust="spacingAndGlyphs" >0.2</text>
<line x1="128.2" y1="272.2" x2="128.2" y2="275.0" stroke="#333" stroke-width="1" />
<text x="128.2" y="283.5" font-size="6.45" text-anchor="middle" fill="#303030" stroke="#303030" stroke-width="0.08" font-weight="normal" textLength="8.48" lengthAdjust="spacingAndGlyphs" >0.3</text>
<line x1="158.6" y1="272.2" x2="158.6" y2="275.0" stroke="#333" stroke-width="1" />
<text x="158.6" y="283.5" font-size="6.45" text-anchor="middle" fill="#303030" stroke="#303030" stroke-width="0.08" font-weight="normal" textLength="8.48" lengthAdjust="spacingAndGlyphs" >0.4</text>
<text x="98.4" y="295.0" font-size="7.2" text-anchor="middle" fill="#303030" stroke="#303030" stroke-width="0" font-weight="bold" textLength="57.7" lengthAdjust="spacingAndGlyphs" >Variant allele frequency</text>
<text transform="translate(13.2,224.6) rotate(-90)" x="0" y="0" font-size="7.2" text-anchor="middle" fill="#303030" font-weight="bold" textLength="19" lengthAdjust="spacingAndGlyphs">Density</text>
<path d="M37.00,267.90 L37.30,267.63 L37.61,267.21 L37.91,266.68 L38.22,266.07 L38.52,265.36 L38.83,264.45 L39.13,263.34 L39.44,262.01 L39.74,260.21 L40.05,257.83 L40.35,254.99 L40.66,251.84 L40.96,248.03 L41.27,243.45 L41.57,238.50 L41.88,233.57 L42.18,228.59 L42.49,223.43 L42.79,218.27 L43.10,213.32 L43.40,208.66 L43.70,204.15 L44.01,199.67 L44.31,195.10 L44.62,189.26 L44.92,183.57 L45.23,181.25 L45.53,182.45 L45.84,184.94 L46.14,187.49 L46.45,189.89 L46.75,192.48 L47.06,195.18 L47.36,197.91 L47.67,200.58 L47.97,203.30 L48.28,206.10 L48.58,208.85 L48.89,211.45 L49.19,213.78 L49.50,215.88 L49.80,217.84 L50.10,219.68 L50.41,221.41 L50.71,223.03 L51.02,224.56 L51.32,226.00 L51.63,227.37 L51.93,228.65 L52.24,229.87 L52.54,231.03 L52.85,232.16 L53.15,233.25 L53.46,234.31 L53.76,235.33 L54.07,236.32 L54.37,237.28 L54.68,238.20 L54.98,239.09 L55.29,239.95 L55.59,240.79 L55.90,241.61 L56.20,242.41 L56.50,243.19 L56.81,243.94 L57.11,244.67 L57.42,245.36 L57.72,246.01 L58.03,246.62 L58.33,247.19 L58.64,247.72 L58.94,248.23 L59.25,248.71 L59.55,249.18 L59.86,249.62 L60.16,250.04 L60.47,250.45 L60.77,250.85 L61.08,251.23 L61.38,251.61 L61.69,251.98 L61.99,252.33 L62.30,252.68 L62.60,253.02 L62.90,253.34 L63.21,253.66 L63.51,253.96 L63.82,254.26 L64.12,254.55 L64.43,254.83 L64.73,255.11 L65.04,255.38 L65.34,255.64 L65.65,255.90 L65.95,256.16 L66.26,256.40 L66.56,256.63 L66.87,256.85 L67.17,257.05 L67.48,257.24 L67.78,257.42 L68.09,257.59 L68.39,257.76 L68.70,257.92 L69.00,258.08 L69.30,258.24 L69.61,258.38 L69.91,258.53 L70.22,258.67 L70.52,258.81 L70.83,258.94 L71.13,259.07 L71.44,259.20 L71.74,259.33 L72.05,259.45 L72.35,259.58 L72.66,259.70 L72.96,259.82 L73.27,259.94 L73.57,260.06 L73.88,260.17 L74.18,260.29 L74.49,260.40 L74.79,260.52 L75.10,260.63 L75.40,260.74 L75.70,260.85 L76.01,260.96 L76.31,261.06 L76.62,261.17 L76.92,261.27 L77.23,261.37 L77.53,261.47 L77.84,261.56 L78.14,261.65 L78.45,261.74 L78.75,261.83 L79.06,261.91 L79.36,261.99 L79.67,262.07 L79.97,262.14 L80.28,262.21 L80.58,262.29 L80.89,262.36 L81.19,262.42 L81.50,262.49 L81.80,262.56 L82.10,262.62 L82.41,262.68 L82.71,262.74 L83.02,262.80 L83.32,262.86 L83.63,262.92 L83.93,262.97 L84.24,263.02 L84.54,263.08 L84.85,263.13 L85.15,263.18 L85.46,263.22 L85.76,263.27 L86.07,263.32 L86.37,263.36 L86.68,263.41 L86.98,263.45 L87.29,263.49 L87.59,263.54 L87.90,263.58 L88.20,263.62 L88.50,263.67 L88.81,263.71 L89.11,263.75 L89.42,263.79 L89.72,263.83 L90.03,263.87 L90.33,263.91 L90.64,263.95 L90.94,263.98 L91.25,264.02 L91.55,264.06 L91.86,264.09 L92.16,264.13 L92.47,264.16 L92.77,264.20 L93.08,264.23 L93.38,264.26 L93.69,264.30 L93.99,264.33 L94.30,264.36 L94.60,264.39 L94.90,264.42 L95.21,264.45 L95.51,264.48 L95.82,264.50 L96.12,264.53 L96.43,264.56 L96.73,264.58 L97.04,264.61 L97.34,264.63 L97.65,264.65 L97.95,264.68 L98.26,264.70 L98.56,264.72 L98.87,264.74 L99.17,264.76 L99.48,264.78 L99.78,264.80 L100.09,264.82 L100.39,264.84 L100.70,264.86 L101.00,264.88 L101.30,264.90 L101.61,264.92 L101.91,264.94 L102.22,264.95 L102.52,264.97 L102.83,264.99 L103.13,265.01 L103.44,265.02 L103.74,265.04 L104.05,265.05 L104.35,265.07 L104.66,265.09 L104.96,265.10 L105.27,265.12 L105.57,265.13 L105.88,265.15 L106.18,265.16 L106.49,265.18 L106.79,265.19 L107.10,265.21 L107.40,265.22 L107.70,265.23 L108.01,265.25 L108.31,265.26 L108.62,265.28 L108.92,265.29 L109.23,265.30 L109.53,265.32 L109.84,265.33 L110.14,265.35 L110.45,265.36 L110.75,265.37 L111.06,265.39 L111.36,265.40 L111.67,265.41 L111.97,265.43 L112.28,265.44 L112.58,265.45 L112.89,265.47 L113.19,265.48 L113.50,265.50 L113.80,265.51 L114.10,265.53 L114.41,265.54 L114.71,265.55 L115.02,265.57 L115.32,265.58 L115.63,265.60 L115.93,265.61 L116.24,265.63 L116.54,265.65 L116.85,265.66 L117.15,265.68 L117.46,265.69 L117.76,265.71 L118.07,265.72 L118.37,265.74 L118.68,265.75 L118.98,265.77 L119.29,265.78 L119.59,265.80 L119.90,265.81 L120.20,265.82 L120.50,265.84 L120.81,265.85 L121.11,265.87 L121.42,265.88 L121.72,265.89 L122.03,265.91 L122.33,265.92 L122.64,265.93 L122.94,265.94 L123.25,265.95 L123.55,265.96 L123.86,265.98 L124.16,265.99 L124.47,266.00 L124.77,266.01 L125.08,266.02 L125.38,266.02 L125.69,266.03 L125.99,266.04 L126.30,266.05 L126.60,266.05 L126.90,266.06 L127.21,266.07 L127.51,266.07 L127.82,266.08 L128.12,266.08 L128.43,266.08 L128.73,266.09 L129.04,266.09 L129.34,266.09 L129.65,266.09 L129.95,266.10 L130.26,266.10 L130.56,266.10 L130.87,266.10 L131.17,266.10 L131.48,266.10 L131.78,266.11 L132.09,266.11 L132.39,266.11 L132.70,266.11 L133.00,266.11 L133.30,266.11 L133.61,266.11 L133.91,266.11 L134.22,266.11 L134.52,266.11 L134.83,266.12 L135.13,266.12 L135.44,266.12 L135.74,266.12 L136.05,266.12 L136.35,266.12 L136.66,266.12 L136.96,266.13 L137.27,266.13 L137.57,266.13 L137.88,266.13 L138.18,266.13 L138.49,266.14 L138.79,266.14 L139.10,266.14 L139.40,266.15 L139.70,266.15 L140.01,266.16 L140.31,266.16 L140.62,266.17 L140.92,266.20 L141.23,266.24 L141.53,266.29 L141.84,266.35 L142.14,266.41 L142.45,266.49 L142.75,266.56 L143.06,266.64 L143.36,266.72 L143.67,266.80 L143.97,266.88 L144.28,266.96 L144.58,267.06 L144.89,267.16 L145.19,267.28 L145.50,267.39 L145.80,267.50 L146.10,267.60 L146.41,267.68 L146.71,267.74 L147.02,267.77 L147.32,267.79 L147.63,267.81 L147.93,267.82 L148.24,267.84 L148.54,267.85 L148.85,267.86 L149.15,267.87 L149.46,267.88 L149.76,267.89 L150.07,267.89 L150.37,267.89 L150.68,267.90 L150.98,267.90 L151.29,267.90 L151.59,267.90 L151.90,267.90 L152.20,267.90 L152.50,267.90 L152.81,267.90 L153.11,267.90 L153.42,267.90 L153.72,267.90 L154.03,267.90 L154.33,267.90 L154.64,267.90 L154.94,267.90 L155.25,267.90 L155.55,267.90 L155.86,267.90 L156.16,267.90 L156.47,267.90 L156.77,267.90 L157.08,267.90 L157.38,267.90 L157.69,267.90 L157.99,267.90 L158.30,267.90 L158.60,267.90" fill="none" stroke="#3a5a8c" stroke-width="1.05"/>
<path d="M37.00,267.90 L37.30,267.63 L37.61,267.21 L37.91,266.68 L38.22,266.07 L38.52,265.36 L38.83,264.45 L39.13,263.34 L39.44,262.01 L39.74,260.20 L40.05,257.80 L40.35,254.96 L40.66,251.84 L40.96,248.13 L41.27,243.72 L41.57,239.00 L41.88,234.39 L42.18,229.80 L42.49,225.10 L42.79,220.49 L43.10,216.18 L43.40,211.90 L43.70,207.67 L44.01,203.97 L44.31,201.32 L44.62,199.28 L44.92,197.48 L45.23,196.22 L45.53,195.79 L45.84,196.07 L46.14,196.76 L46.45,197.68 L46.75,198.69 L47.06,200.01 L47.36,201.74 L47.67,203.68 L47.97,205.66 L48.28,207.81 L48.58,210.15 L48.89,212.47 L49.19,214.56 L49.50,216.43 L49.80,218.20 L50.10,219.88 L50.41,221.48 L50.71,223.02 L51.02,224.52 L51.32,225.96 L51.63,227.34 L51.93,228.65 L52.24,229.87 L52.54,231.04 L52.85,232.17 L53.15,233.27 L53.46,234.34 L53.76,235.37 L54.07,236.36 L54.37,237.32 L54.68,238.23 L54.98,239.11 L55.29,239.94 L55.59,240.75 L55.90,241.53 L56.20,242.28 L56.50,243.01 L56.81,243.71 L57.11,244.39 L57.42,245.03 L57.72,245.65 L58.03,246.23 L58.33,246.78 L58.64,247.31 L58.94,247.82 L59.25,248.31 L59.55,248.78 L59.86,249.24 L60.16,249.67 L60.47,250.08 L60.77,250.48 L61.08,250.85 L61.38,251.20 L61.69,251.54 L61.99,251.86 L62.30,252.17 L62.60,252.46 L62.90,252.74 L63.21,253.01 L63.51,253.28 L63.82,253.53 L64.12,253.77 L64.43,254.01 L64.73,254.24 L65.04,254.46 L65.34,254.67 L65.65,254.87 L65.95,255.07 L66.26,255.26 L66.56,255.46 L66.87,255.65 L67.17,255.84 L67.48,256.03 L67.78,256.22 L68.09,256.42 L68.39,256.62 L68.70,256.81 L69.00,257.01 L69.30,257.21 L69.61,257.41 L69.91,257.60 L70.22,257.80 L70.52,257.99 L70.83,258.18 L71.13,258.36 L71.44,258.54 L71.74,258.72 L72.05,258.89 L72.35,259.06 L72.66,259.22 L72.96,259.37 L73.27,259.52 L73.57,259.66 L73.88,259.79 L74.18,259.93 L74.49,260.06 L74.79,260.18 L75.10,260.31 L75.40,260.43 L75.70,260.55 L76.01,260.67 L76.31,260.78 L76.62,260.89 L76.92,261.00 L77.23,261.11 L77.53,261.21 L77.84,261.31 L78.14,261.41 L78.45,261.51 L78.75,261.60 L79.06,261.69 L79.36,261.78 L79.67,261.87 L79.97,261.95 L80.28,262.04 L80.58,262.12 L80.89,262.20 L81.19,262.29 L81.50,262.36 L81.80,262.44 L82.10,262.52 L82.41,262.59 L82.71,262.67 L83.02,262.74 L83.32,262.81 L83.63,262.87 L83.93,262.94 L84.24,263.00 L84.54,263.06 L84.85,263.12 L85.15,263.17 L85.46,263.22 L85.76,263.27 L86.07,263.32 L86.37,263.37 L86.68,263.41 L86.98,263.46 L87.29,263.51 L87.59,263.55 L87.90,263.60 L88.20,263.64 L88.50,263.68 L88.81,263.72 L89.11,263.77 L89.42,263.81 L89.72,263.85 L90.03,263.89 L90.33,263.92 L90.64,263.96 L90.94,264.00 L91.25,264.04 L91.55,264.07 L91.86,264.11 L92.16,264.14 L92.47,264.18 L92.77,264.21 L93.08,264.24 L93.38,264.27 L93.69,264.30 L93.99,264.34 L94.30,264.37 L94.60,264.40 L94.90,264.42 L95.21,264.45 L95.51,264.48 L95.82,264.51 L96.12,264.53 L96.43,264.56 L96.73,264.58 L97.04,264.61 L97.34,264.63 L97.65,264.65 L97.95,264.68 L98.26,264.70 L98.56,264.72 L98.87,264.74 L99.17,264.76 L99.48,264.78 L99.78,264.80 L100.09,264.82 L100.39,264.84 L100.70,264.86 L101.00,264.88 L101.30,264.90 L101.61,264.92 L101.91,264.93 L102.22,264.95 L102.52,264.97 L102.83,264.99 L103.13,265.00 L103.44,265.02 L103.74,265.03 L104.05,265.05 L104.35,265.07 L104.66,265.08 L104.96,265.10 L105.27,265.11 L105.57,265.13 L105.88,265.14 L106.18,265.16 L106.49,265.17 L106.79,265.19 L107.10,265.20 L107.40,265.21 L107.70,265.23 L108.01,265.24 L108.31,265.26 L108.62,265.27 L108.92,265.28 L109.23,265.30 L109.53,265.31 L109.84,265.33 L110.14,265.34 L110.45,265.35 L110.75,265.37 L111.06,265.38 L111.36,265.40 L111.67,265.41 L111.97,265.43 L112.28,265.44 L112.58,265.45 L112.89,265.47 L113.19,265.48 L113.50,265.50 L113.80,265.51 L114.10,265.53 L114.41,265.55 L114.71,265.56 L115.02,265.58 L115.32,265.60 L115.63,265.62 L115.93,265.63 L116.24,265.65 L116.54,265.67 L116.85,265.69 L117.15,265.70 L117.46,265.72 L117.76,265.74 L118.07,265.76 L118.37,265.78 L118.68,265.79 L118.98,265.81 L119.29,265.83 L119.59,265.85 L119.90,265.86 L120.20,265.88 L120.50,265.89 L120.81,265.91 L121.11,265.93 L121.42,265.94 L121.72,265.95 L122.03,265.97 L122.33,265.98 L122.64,265.99 L122.94,266.00 L123.25,266.02 L123.55,266.03 L123.86,266.04 L124.16,266.04 L124.47,266.05 L124.77,266.06 L125.08,266.06 L125.38,266.07 L125.69,266.07 L125.99,266.08 L126.30,266.08 L126.60,266.08 L126.90,266.07 L127.21,266.04 L127.51,265.99 L127.82,265.93 L128.12,265.86 L128.43,265.78 L128.73,265.72 L129.04,265.66 L129.34,265.62 L129.65,265.60 L129.95,265.60 L130.26,265.63 L130.56,265.68 L130.87,265.74 L131.17,265.81 L131.48,265.88 L131.78,265.95 L132.09,266.01 L132.39,266.05 L132.70,266.08 L133.00,266.09 L133.30,266.09 L133.61,266.10 L133.91,266.10 L134.22,266.10 L134.52,266.11 L134.83,266.11 L135.13,266.11 L135.44,266.11 L135.74,266.12 L136.05,266.12 L136.35,266.12 L136.66,266.12 L136.96,266.12 L137.27,266.12 L137.57,266.13 L137.88,266.13 L138.18,266.13 L138.49,266.13 L138.79,266.14 L139.10,266.14 L139.40,266.14 L139.70,266.15 L140.01,266.15 L140.31,266.16 L140.62,266.17 L140.92,266.20 L141.23,266.24 L141.53,266.29 L141.84,266.35 L142.14,266.42 L142.45,266.49 L142.75,266.57 L143.06,266.65 L143.36,266.73 L143.67,266.80 L143.97,266.88 L144.28,266.96 L144.58,267.06 L144.89,267.16 L145.19,267.28 L145.50,267.39 L145.80,267.50 L146.10,267.60 L146.41,267.68 L146.71,267.74 L147.02,267.77 L147.32,267.79 L147.63,267.81 L147.93,267.82 L148.24,267.84 L148.54,267.85 L148.85,267.86 L149.15,267.87 L149.46,267.88 L149.76,267.89 L150.07,267.89 L150.37,267.89 L150.68,267.90 L150.98,267.90 L151.29,267.90 L151.59,267.90 L151.90,267.90 L152.20,267.90 L152.50,267.90 L152.81,267.90 L153.11,267.90 L153.42,267.90 L153.72,267.90 L154.03,267.90 L154.33,267.90 L154.64,267.90 L154.94,267.90 L155.25,267.90 L155.55,267.90 L155.86,267.90 L156.16,267.90 L156.47,267.90 L156.77,267.90 L157.08,267.90 L157.38,267.90 L157.69,267.90 L157.99,267.90 L158.30,267.90 L158.60,267.90" fill="none" stroke="#bd2453" stroke-width="1.0"/>
<path d="M37.00,267.90 L37.30,267.63 L37.61,267.21 L37.91,266.68 L38.22,266.07 L38.52,265.36 L38.83,264.45 L39.13,263.34 L39.44,262.01 L39.74,260.20 L40.05,257.80 L40.35,254.96 L40.66,251.84 L40.96,248.13 L41.27,243.72 L41.57,239.00 L41.88,234.39 L42.18,229.80 L42.49,225.10 L42.79,220.49 L43.10,216.18 M48.28,207.81 L48.58,210.15 L48.89,212.47 L49.19,214.56 L49.50,216.43 L49.80,218.20 L50.10,219.88 L50.41,221.48 L50.71,223.02 L51.02,224.52 L51.32,225.96 L51.63,227.34 L51.93,228.65 L52.24,229.87 L52.54,231.04 L52.85,232.17 L53.15,233.27 L53.46,234.34 L53.76,235.37 L54.07,236.36 L54.37,237.32 L54.68,238.23 L54.98,239.11 L55.29,239.94 L55.59,240.75 L55.90,241.53 L56.20,242.28 L56.50,243.01 L56.81,243.71 L57.11,244.39 L57.42,245.03 L57.72,245.65 L58.03,246.23 L58.33,246.78 L58.64,247.31 L58.94,247.82 L59.25,248.31 L59.55,248.78 L59.86,249.24 L60.16,249.67 L60.47,250.08 L60.77,250.48 L61.08,250.85 L61.38,251.20 L61.69,251.54 L61.99,251.86 L62.30,252.17 L62.60,252.46 L62.90,252.74 L63.21,253.01 L63.51,253.28 L63.82,253.53 L64.12,253.77 L64.43,254.01 L64.73,254.24 L65.04,254.46 L65.34,254.67 L65.65,254.87 L65.95,255.07 L66.26,255.26 L66.56,255.46 L66.87,255.65 L67.17,255.84 L67.48,256.03 L67.78,256.22 L68.09,256.42 L68.39,256.62 L68.70,256.81 L69.00,257.01 L69.30,257.21 L69.61,257.41 L69.91,257.60 L70.22,257.80 L70.52,257.99 L70.83,258.18 L71.13,258.36 L71.44,258.54 L71.74,258.72 L72.05,258.89 L72.35,259.06 L72.66,259.22 L72.96,259.37 L73.27,259.52 L73.57,259.66 L73.88,259.79 L74.18,259.93 L74.49,260.06 L74.79,260.18 L75.10,260.31 L75.40,260.43 L75.70,260.55 L76.01,260.67 L76.31,260.78 L76.62,260.89 L76.92,261.00 L77.23,261.11 L77.53,261.21 L77.84,261.31 L78.14,261.41 L78.45,261.51 L78.75,261.60 L79.06,261.69 L79.36,261.78 L79.67,261.87 L79.97,261.95 L80.28,262.04 L80.58,262.12 L80.89,262.20 L81.19,262.29 L81.50,262.36 L81.80,262.44 L82.10,262.52 L82.41,262.59 L82.71,262.67 L83.02,262.74 L83.32,262.81 L83.63,262.87 L83.93,262.94 L84.24,263.00 L84.54,263.06 L84.85,263.12 L85.15,263.17 L85.46,263.22 L85.76,263.27 L86.07,263.32 L86.37,263.37 L86.68,263.41 L86.98,263.46 L87.29,263.51 L87.59,263.55 L87.90,263.60 L88.20,263.64 L88.50,263.68 L88.81,263.72 L89.11,263.77 L89.42,263.81 L89.72,263.85 L90.03,263.89 L90.33,263.92 L90.64,263.96 L90.94,264.00 L91.25,264.04 L91.55,264.07 L91.86,264.11 L92.16,264.14 L92.47,264.18 L92.77,264.21 L93.08,264.24 L93.38,264.27 L93.69,264.30 L93.99,264.34 L94.30,264.37 L94.60,264.40 L94.90,264.42 L95.21,264.45 L95.51,264.48 L95.82,264.51 L96.12,264.53 L96.43,264.56 L96.73,264.58 L97.04,264.61 L97.34,264.63 L97.65,264.65 L97.95,264.68 L98.26,264.70 L98.56,264.72 L98.87,264.74 L99.17,264.76 L99.48,264.78 L99.78,264.80 L100.09,264.82 L100.39,264.84 L100.70,264.86 L101.00,264.88 L101.30,264.90 L101.61,264.92 L101.91,264.93 L102.22,264.95 L102.52,264.97 L102.83,264.99 L103.13,265.00 L103.44,265.02 L103.74,265.03 L104.05,265.05 L104.35,265.07 L104.66,265.08 L104.96,265.10 L105.27,265.11 L105.57,265.13 L105.88,265.14 L106.18,265.16 L106.49,265.17 L106.79,265.19 L107.10,265.20 L107.40,265.21 L107.70,265.23 L108.01,265.24 L108.31,265.26 L108.62,265.27 L108.92,265.28 L109.23,265.30 L109.53,265.31 L109.84,265.33 L110.14,265.34 L110.45,265.35 L110.75,265.37 L111.06,265.38 L111.36,265.40 L111.67,265.41 L111.97,265.43 L112.28,265.44 L112.58,265.45 L112.89,265.47 L113.19,265.48 L113.50,265.50 L113.80,265.51 L114.10,265.53 L114.41,265.55 L114.71,265.56 L115.02,265.58 L115.32,265.60 L115.63,265.62 L115.93,265.63 L116.24,265.65 L116.54,265.67 L116.85,265.69 L117.15,265.70 L117.46,265.72 L117.76,265.74 L118.07,265.76 L118.37,265.78 L118.68,265.79 L118.98,265.81 L119.29,265.83 L119.59,265.85 L119.90,265.86 L120.20,265.88 L120.50,265.89 L120.81,265.91 L121.11,265.93 L121.42,265.94 L121.72,265.95 L122.03,265.97 L122.33,265.98 L122.64,265.99 L122.94,266.00 L123.25,266.02 L123.55,266.03 L123.86,266.04 L124.16,266.04 L124.47,266.05 L124.77,266.06 L125.08,266.06 L125.38,266.07 L125.69,266.07 L125.99,266.08 L126.30,266.08 L126.60,266.08 L126.90,266.07 L127.21,266.04 L127.51,265.99 L127.82,265.93 L128.12,265.86 L128.43,265.78 L128.73,265.72 L129.04,265.66 L129.34,265.62 L129.65,265.60 L129.95,265.60 L130.26,265.63 L130.56,265.68 L130.87,265.74 L131.17,265.81 L131.48,265.88 L131.78,265.95 L132.09,266.01 L132.39,266.05 L132.70,266.08 L133.00,266.09 L133.30,266.09 L133.61,266.10 L133.91,266.10 L134.22,266.10 L134.52,266.11 L134.83,266.11 L135.13,266.11 L135.44,266.11 L135.74,266.12 L136.05,266.12 L136.35,266.12 L136.66,266.12 L136.96,266.12 L137.27,266.12 L137.57,266.13 L137.88,266.13 L138.18,266.13 L138.49,266.13 L138.79,266.14 L139.10,266.14 L139.40,266.14 L139.70,266.15 L140.01,266.15 L140.31,266.16 L140.62,266.17 L140.92,266.20 L141.23,266.24 L141.53,266.29 L141.84,266.35 L142.14,266.42 L142.45,266.49 L142.75,266.57 L143.06,266.65 L143.36,266.73 L143.67,266.80 L143.97,266.88 L144.28,266.96 L144.58,267.06 L144.89,267.16 L145.19,267.28 L145.50,267.39 L145.80,267.50 L146.10,267.60 L146.41,267.68 L146.71,267.74 L147.02,267.77 L147.32,267.79 L147.63,267.81 L147.93,267.82 L148.24,267.84 L148.54,267.85 L148.85,267.86 L149.15,267.87 L149.46,267.88 L149.76,267.89 L150.07,267.89 L150.37,267.89 L150.68,267.90 L150.98,267.90 L151.29,267.90 L151.59,267.90 L151.90,267.90 L152.20,267.90 L152.50,267.90 L152.81,267.90 L153.11,267.90 L153.42,267.90 L153.72,267.90 L154.03,267.90 L154.33,267.90 L154.64,267.90 L154.94,267.90 L155.25,267.90 L155.55,267.90 L155.86,267.90 L156.16,267.90 L156.47,267.90 L156.77,267.90 L157.08,267.90 L157.38,267.90 L157.69,267.90 L157.99,267.90 L158.30,267.90 L158.60,267.90" fill="none" stroke="#4a1a35" stroke-width="0.45" opacity="0.8"/>
<rect x="53.5" y="300.4" width="5.0" height="5.1" fill="#114b8a" />
<text x="62.2" y="305.4" font-size="6.0" text-anchor="start" fill="#303030" stroke="#303030" stroke-width="0.08" font-weight="normal" textLength="43" lengthAdjust="spacingAndGlyphs" >conventional CH</text>
<rect x="111.2" y="300.4" width="5.0" height="5.1" fill="#cd0a2c" />
<text x="119.6" y="305.4" font-size="6.0" text-anchor="start" fill="#303030" stroke="#303030" stroke-width="0.08" font-weight="normal" textLength="24.3" lengthAdjust="spacingAndGlyphs" >silent CH</text>
<text x="174.8" y="171.3" font-size="10.7" text-anchor="start" fill="#000" stroke="#000" stroke-width="0.25" font-weight="bold" >E</text>
<line x1="214.0" y1="177.1" x2="214.0" y2="272.3" stroke="#333" stroke-width="1" />
<line x1="213.5" y1="272.3" x2="342.6" y2="272.3" stroke="#333" stroke-width="1" />
<line x1="211.4" y1="268.0" x2="214.0" y2="268.0" stroke="#333" stroke-width="1" />
<text x="207.8" y="270.6" font-size="6.45" text-anchor="end" fill="#303030" stroke="#303030" stroke-width="0.08" font-weight="normal" textLength="3.39" lengthAdjust="spacingAndGlyphs" >0</text>
<line x1="211.4" y1="244.1" x2="214.0" y2="244.1" stroke="#333" stroke-width="1" />
<text x="207.8" y="246.7" font-size="6.45" text-anchor="end" fill="#303030" stroke="#303030" stroke-width="0.08" font-weight="normal" textLength="13.57" lengthAdjust="spacingAndGlyphs" >2000</text>
<line x1="211.4" y1="220.2" x2="214.0" y2="220.2" stroke="#333" stroke-width="1" />
<text x="207.8" y="222.79999999999998" font-size="6.45" text-anchor="end" fill="#303030" stroke="#303030" stroke-width="0.08" font-weight="normal" textLength="13.57" lengthAdjust="spacingAndGlyphs" >4000</text>
<line x1="211.4" y1="196.29999999999998" x2="214.0" y2="196.29999999999998" stroke="#333" stroke-width="1" />
<text x="207.8" y="198.89999999999998" font-size="6.45" text-anchor="end" fill="#303030" stroke="#303030" stroke-width="0.08" font-weight="normal" textLength="13.57" lengthAdjust="spacingAndGlyphs" >6000</text>
<rect x="216.45000000000002" y="246.53685" width="7.6" height="21.463150000000002" fill="#114b8a" stroke="#0b3566" stroke-width="0.5"/>
<rect x="224.55" y="259.29945" width="7.7" height="8.700550000000002" fill="#cd0a2c" stroke="#8e0c22" stroke-width="0.5"/>
<line x1="224.3" y1="272.3" x2="224.3" y2="275.1" stroke="#333" stroke-width="1" />
<text x="224.3" y="283.6" font-size="6.5" text-anchor="middle" fill="#303030" stroke="#303030" stroke-width="0.08" font-weight="normal" textLength="11.64" lengthAdjust="spacingAndGlyphs" >C&gt;A</text>
<rect x="234.48000000000002" y="253.4798" width="7.6" height="14.520200000000003" fill="#114b8a" stroke="#0b3566" stroke-width="0.5"/>
<rect x="242.58" y="261.71335" width="7.7" height="6.286650000000002" fill="#cd0a2c" stroke="#8e0c22" stroke-width="0.5"/>
<line x1="242.33" y1="272.3" x2="242.33" y2="275.1" stroke="#333" stroke-width="1" />
<text x="242.33" y="283.6" font-size="6.5" text-anchor="middle" fill="#303030" stroke="#303030" stroke-width="0.08" font-weight="normal" textLength="12.3" lengthAdjust="spacingAndGlyphs" >C&gt;G</text>
<rect x="252.51000000000002" y="181.11059999999998" width="7.6" height="86.88940000000002" fill="#114b8a" stroke="#0b3566" stroke-width="0.5"/>
<rect x="260.61" y="225.5407" width="7.7" height="42.459300000000006" fill="#cd0a2c" stroke="#8e0c22" stroke-width="0.5"/>
<line x1="260.36" y1="272.3" x2="260.36" y2="275.1" stroke="#333" stroke-width="1" />
<text x="260.36" y="283.6" font-size="6.5" text-anchor="middle" fill="#303030" stroke="#303030" stroke-width="0.08" font-weight="normal" textLength="11.31" lengthAdjust="spacingAndGlyphs" >C&gt;T</text>
<rect x="270.53999999999996" y="259.29945" width="7.6" height="8.700550000000002" fill="#114b8a" stroke="#0b3566" stroke-width="0.5"/>
<rect x="278.64" y="264.2348" width="7.7" height="3.765200000000001" fill="#cd0a2c" stroke="#8e0c22" stroke-width="0.5"/>
<line x1="278.39" y1="272.3" x2="278.39" y2="275.1" stroke="#333" stroke-width="1" />
<text x="278.39" y="283.6" font-size="6.5" text-anchor="middle" fill="#303030" stroke="#303030" stroke-width="0.08" font-weight="normal" textLength="10.98" lengthAdjust="spacingAndGlyphs" >T&gt;A</text>
<rect x="288.57" y="241.61345" width="7.6" height="26.386550000000007" fill="#114b8a" stroke="#0b3566" stroke-width="0.5"/>
<rect x="296.67" y="253.87415" width="7.7" height="14.125850000000003" fill="#cd0a2c" stroke="#8e0c22" stroke-width="0.5"/>
<line x1="296.42" y1="272.3" x2="296.42" y2="275.1" stroke="#333" stroke-width="1" />
<text x="296.42" y="283.6" font-size="6.5" text-anchor="middle" fill="#303030" stroke="#303030" stroke-width="0.08" font-weight="normal" textLength="11.31" lengthAdjust="spacingAndGlyphs" >T&gt;C</text>
<rect x="306.6" y="259.29945" width="7.6" height="8.700550000000002" fill="#114b8a" stroke="#0b3566" stroke-width="0.5"/>
<rect x="314.70000000000005" y="264.426" width="7.7" height="3.5740000000000007" fill="#cd0a2c" stroke="#8e0c22" stroke-width="0.5"/>
<line x1="314.45000000000005" y1="272.3" x2="314.45000000000005" y2="275.1" stroke="#333" stroke-width="1" />
<text x="314.45000000000005" y="283.6" font-size="6.5" text-anchor="middle" fill="#303030" stroke="#303030" stroke-width="0.08" font-weight="normal" textLength="11.64" lengthAdjust="spacingAndGlyphs" >T&gt;G</text>
<rect x="324.63" y="228.85084999999998" width="7.6" height="39.149150000000006" fill="#114b8a" stroke="#0b3566" stroke-width="0.5"/>
<rect x="332.73" y="260.5064" width="7.7" height="7.493600000000002" fill="#cd0a2c" stroke="#8e0c22" stroke-width="0.5"/>
<line x1="332.48" y1="272.3" x2="332.48" y2="275.1" stroke="#333" stroke-width="1" />
<text x="332.48" y="283.6" font-size="6.5" text-anchor="middle" fill="#303030" stroke="#303030" stroke-width="0.08" font-weight="normal" textLength="21.97" lengthAdjust="spacingAndGlyphs" clip-path="url(#clipE)">complex</text>
<text x="278.7" y="293.8" font-size="7.2" text-anchor="middle" fill="#303030" stroke="#303030" stroke-width="0" font-weight="bold" textLength="33.9" lengthAdjust="spacingAndGlyphs" >Mutation type</text>
<text transform="translate(189.1,225.0) rotate(-90)" x="0" y="0" font-size="7.2" text-anchor="middle" fill="#303030" font-weight="bold" textLength="14.4" lengthAdjust="spacingAndGlyphs">Count</text>
<rect x="233.7" y="299.5" width="5.3" height="5.4" fill="#114b8a" />
<text x="241.8" y="304.6" font-size="6.0" text-anchor="start" fill="#303030" stroke="#303030" stroke-width="0.08" font-weight="normal" textLength="43.6" lengthAdjust="spacingAndGlyphs" >conventional CH</text>
<rect x="291.4" y="299.5" width="5.3" height="5.4" fill="#cd0a2c" />
<text x="299.5" y="304.6" font-size="6.0" text-anchor="start" fill="#303030" stroke="#303030" stroke-width="0.08" font-weight="normal" textLength="24" lengthAdjust="spacingAndGlyphs" >silent CH</text>
<text x="352.3" y="171.3" font-size="10.7" text-anchor="start" fill="#000" stroke="#000" stroke-width="0.25" font-weight="bold" >F</text>
<line x1="387.3" y1="177.1" x2="387.3" y2="272.3" stroke="#333" stroke-width="1" />
<line x1="386.8" y1="272.3" x2="513.3" y2="272.3" stroke="#333" stroke-width="1" />
<line x1="384.7" y1="268.5" x2="387.3" y2="268.5" stroke="#333" stroke-width="1" />
<text x="381.3" y="271.1" font-size="6.45" text-anchor="end" fill="#303030" stroke="#303030" stroke-width="0.08" font-weight="normal" textLength="3.39" lengthAdjust="spacingAndGlyphs" >1</text>
<line x1="384.7" y1="246.65" x2="387.3" y2="246.65" stroke="#333" stroke-width="1" />
<text x="381.3" y="249.25" font-size="6.45" text-anchor="end" fill="#303030" stroke="#303030" stroke-width="0.08" font-weight="normal" textLength="6.79" lengthAdjust="spacingAndGlyphs" >10</text>
<line x1="384.7" y1="224.8" x2="387.3" y2="224.8" stroke="#333" stroke-width="1" />
<text x="381.3" y="227.4" font-size="6.45" text-anchor="end" fill="#303030" stroke="#303030" stroke-width="0.08" font-weight="normal" textLength="10.18" lengthAdjust="spacingAndGlyphs" >100</text>
<line x1="384.7" y1="202.95" x2="387.3" y2="202.95" stroke="#333" stroke-width="1" />
<text x="381.3" y="205.54999999999998" font-size="6.45" text-anchor="end" fill="#303030" stroke="#303030" stroke-width="0.08" font-weight="normal" textLength="13.57" lengthAdjust="spacingAndGlyphs" >1000</text>
<line x1="384.7" y1="181.1" x2="387.3" y2="181.1" stroke="#333" stroke-width="1" />
<text x="381.3" y="183.7" font-size="6.45" text-anchor="end" fill="#303030" stroke="#303030" stroke-width="0.08" font-weight="normal" textLength="16.96" lengthAdjust="spacingAndGlyphs" >10000</text>
<line x1="391.3" y1="272.3" x2="391.3" y2="275.1" stroke="#333" stroke-width="1" />
<text x="391.3" y="283.6" font-size="6.45" text-anchor="middle" fill="#303030" stroke="#303030" stroke-width="0.08" font-weight="normal" textLength="3.39" lengthAdjust="spacingAndGlyphs" >0</text>
<line x1="413.98" y1="272.3" x2="413.98" y2="275.1" stroke="#333" stroke-width="1" />
<text x="413.98" y="283.6" font-size="6.45" text-anchor="middle" fill="#303030" stroke="#303030" stroke-width="0.08" font-weight="normal" textLength="6.79" lengthAdjust="spacingAndGlyphs" >10</text>
<line x1="436.66" y1="272.3" x2="436.66" y2="275.1" stroke="#333" stroke-width="1" />
<text x="436.66" y="283.6" font-size="6.45" text-anchor="middle" fill="#303030" stroke="#303030" stroke-width="0.08" font-weight="normal" textLength="6.79" lengthAdjust="spacingAndGlyphs" >20</text>
<line x1="459.34000000000003" y1="272.3" x2="459.34000000000003" y2="275.1" stroke="#333" stroke-width="1" />
<text x="459.34000000000003" y="283.6" font-size="6.45" text-anchor="middle" fill="#303030" stroke="#303030" stroke-width="0.08" font-weight="normal" textLength="6.79" lengthAdjust="spacingAndGlyphs" >30</text>
<line x1="482.02" y1="272.3" x2="482.02" y2="275.1" stroke="#333" stroke-width="1" />
<text x="482.02" y="283.6" font-size="6.45" text-anchor="middle" fill="#303030" stroke="#303030" stroke-width="0.08" font-weight="normal" textLength="6.79" lengthAdjust="spacingAndGlyphs" >40</text>
<line x1="504.7" y1="272.3" x2="504.7" y2="275.1" stroke="#333" stroke-width="1" />
<text x="504.7" y="283.6" font-size="6.45" text-anchor="middle" fill="#303030" stroke="#303030" stroke-width="0.08" font-weight="normal" textLength="6.79" lengthAdjust="spacingAndGlyphs" >50</text>
<rect x="392.43" y="181.49" width="2.27" height="87.01" fill="#114b8a" stroke="#14203a" stroke-width="0.5"/>
<rect x="394.70" y="204.83" width="2.27" height="63.67" fill="#114b8a" stroke="#14203a" stroke-width="0.5"/>
<rect x="396.97" y="214.06" width="2.27" height="54.44" fill="#114b8a" stroke="#14203a" stroke-width="0.5"/>
<rect x="399.24" y="222.68" width="2.27" height="45.82" fill="#114b8a" stroke="#14203a" stroke-width="0.5"/>
<rect x="401.51" y="227.16" width="2.27" height="41.34" fill="#114b8a" stroke="#14203a" stroke-width="0.5"/>
<rect x="403.77" y="229.34" width="2.27" height="39.16" fill="#114b8a" stroke="#14203a" stroke-width="0.5"/>
<rect x="406.04" y="233.03" width="2.27" height="35.47" fill="#114b8a" stroke="#14203a" stroke-width="0.5"/>
<rect x="408.31" y="235.32" width="2.27" height="33.18" fill="#114b8a" stroke="#14203a" stroke-width="0.5"/>
<rect x="410.58" y="236.22" width="2.27" height="32.28" fill="#114b8a" stroke="#14203a" stroke-width="0.5"/>
<rect x="412.85" y="240.07" width="2.27" height="28.43" fill="#114b8a" stroke="#14203a" stroke-width="0.5"/>
<rect x="415.11" y="250.03" width="2.27" height="18.47" fill="#114b8a" stroke="#14203a" stroke-width="0.5"/>
<rect x="417.38" y="245.49" width="2.27" height="23.01" fill="#114b8a" stroke="#14203a" stroke-width="0.5"/>
<rect x="419.65" y="245.49" width="2.27" height="23.01" fill="#114b8a" stroke="#14203a" stroke-width="0.5"/>
<rect x="421.92" y="255.34" width="2.27" height="13.16" fill="#114b8a" stroke="#14203a" stroke-width="0.5"/>
<rect x="424.19" y="255.34" width="2.27" height="13.16" fill="#114b8a" stroke="#14203a" stroke-width="0.5"/>
<rect x="426.45" y="245.75" width="2.27" height="22.75" fill="#114b8a" stroke="#14203a" stroke-width="0.5"/>
<rect x="428.72" y="248.77" width="2.27" height="19.73" fill="#114b8a" stroke="#14203a" stroke-width="0.5"/>
<rect x="430.99" y="257.46" width="2.27" height="11.04" fill="#114b8a" stroke="#14203a" stroke-width="0.5"/>
<rect x="433.26" y="249.38" width="2.27" height="19.12" fill="#114b8a" stroke="#14203a" stroke-width="0.5"/>
<rect x="435.53" y="251.19" width="2.27" height="17.31" fill="#114b8a" stroke="#14203a" stroke-width="0.5"/>
<rect x="440.06" y="258.07" width="2.27" height="10.43" fill="#114b8a" stroke="#14203a" stroke-width="0.5"/>
<rect x="442.33" y="258.07" width="2.27" height="10.43" fill="#114b8a" stroke="#14203a" stroke-width="0.5"/>
<rect x="444.60" y="258.07" width="2.27" height="10.43" fill="#114b8a" stroke="#14203a" stroke-width="0.5"/>
<rect x="449.13" y="258.07" width="2.27" height="10.43" fill="#114b8a" stroke="#14203a" stroke-width="0.5"/>
<rect x="453.67" y="261.46" width="2.27" height="7.04" fill="#114b8a" stroke="#14203a" stroke-width="0.5"/>
<rect x="483.15" y="261.46" width="2.27" height="7.04" fill="#114b8a" stroke="#14203a" stroke-width="0.5"/>
<rect x="392.43" y="183.46" width="2.27" height="85.04" fill="#c20c2e" stroke="#6a0a1e" stroke-width="0.25"/>
<rect x="394.70" y="220.95" width="2.27" height="47.55" fill="#c20c2e" stroke="#6a0a1e" stroke-width="0.25"/>
<rect x="396.97" y="231.38" width="2.27" height="37.12" fill="#c20c2e" stroke="#6a0a1e" stroke-width="0.25"/>
<rect x="399.24" y="242.19" width="2.27" height="26.31" fill="#c20c2e" stroke="#6a0a1e" stroke-width="0.25"/>
<rect x="401.51" y="248.19" width="2.27" height="20.31" fill="#c20c2e" stroke="#6a0a1e" stroke-width="0.25"/>
<rect x="403.77" y="250.74" width="2.27" height="17.76" fill="#c20c2e" stroke="#6a0a1e" stroke-width="0.25"/>
<rect x="406.04" y="261.02" width="2.27" height="7.48" fill="#c20c2e" stroke="#6a0a1e" stroke-width="0.25"/>
<rect x="408.31" y="253.61" width="2.27" height="14.89" fill="#c20c2e" stroke="#6a0a1e" stroke-width="0.25"/>
<rect x="417.38" y="259.81" width="2.27" height="8.69" fill="#c20c2e" stroke="#6a0a1e" stroke-width="0.25"/>
<line x1="437.794" y1="267.6" x2="508.102" y2="267.6" stroke="#222" stroke-width="1.0" />
<text x="451.0" y="295.0" font-size="7.2" text-anchor="middle" fill="#303030" stroke="#303030" stroke-width="0" font-weight="bold" textLength="89" lengthAdjust="spacingAndGlyphs" ># Observations of specific mutation</text>
<text transform="translate(357.5,224.6) rotate(-90)" x="0" y="0" font-size="7.2" text-anchor="middle" fill="#303030" font-weight="bold" textLength="25.8" lengthAdjust="spacingAndGlyphs">Frequency</text>
<rect x="405.4" y="300.2" width="5.3" height="5.4" fill="#114b8a" />
<text x="413.5" y="305.2" font-size="6.0" text-anchor="start" fill="#303030" stroke="#303030" stroke-width="0.08" font-weight="normal" textLength="43.6" lengthAdjust="spacingAndGlyphs" >conventional CH</text>
<rect x="463.0" y="300.2" width="5.3" height="5.4" fill="#cd0a2c" />
<text x="471.2" y="305.2" font-size="6.0" text-anchor="start" fill="#303030" stroke="#303030" stroke-width="0.08" font-weight="normal" textLength="24" lengthAdjust="spacingAndGlyphs" >silent CH</text>
<text x="56.8" y="330.2" font-size="10.7" text-anchor="start" fill="#000" stroke="#000" stroke-width="0.25" font-weight="bold" >G</text>
<line x1="139.7" y1="347.2" x2="139.7" y2="376.8" stroke="#333" stroke-width="1" />
<line x1="139.2" y1="376.3" x2="297.2" y2="376.3" stroke="#333" stroke-width="1" />
<line x1="174.1" y1="376.3" x2="174.1" y2="378.90000000000003" stroke="#333" stroke-width="1" />
<line x1="227.6" y1="376.3" x2="227.6" y2="378.90000000000003" stroke="#333" stroke-width="1" />
<line x1="280.8" y1="376.3" x2="280.8" y2="378.90000000000003" stroke="#333" stroke-width="1" />
<line x1="174.2" y1="347.2" x2="174.2" y2="376.3" stroke="#222" stroke-width="1.0" stroke-dasharray="2.5,2.6"/>
<line x1="137.2" y1="352.2" x2="139.7" y2="352.2" stroke="#333" stroke-width="1" />
<text x="134.2" y="354.15" font-size="6.2" text-anchor="end" fill="#303030" stroke="#303030" stroke-width="0.08" font-weight="normal" textLength="65.04" lengthAdjust="spacingAndGlyphs" >Isolated conventional CH</text>
<line x1="191.29279603066846" y1="352.2" x2="242.52704981077144" y2="352.2" stroke="#474747" stroke-width="1.1" />
<line x1="191.29279603066846" y1="350.7" x2="191.29279603066846" y2="353.7" stroke="#444" stroke-width="0.9" />
<line x1="242.52704981077144" y1="350.7" x2="242.52704981077144" y2="353.7" stroke="#444" stroke-width="0.9" />
<rect x="214.77" y="349.9" width="4.6" height="4.6" fill="#114b8a" />
<text x="334.9" y="354.09999999999997" font-size="5.7" text-anchor="middle" fill="#303030" stroke="#303030" stroke-width="0.06" font-weight="normal" textLength="41.8" lengthAdjust="spacingAndGlyphs" >1.75 (1.25-2.44)</text>
<text x="394.6" y="354.09999999999997" font-size="5.9" text-anchor="middle" fill="#303030" stroke="#303030" stroke-width="0.06" font-weight="normal" textLength="13.35" lengthAdjust="spacingAndGlyphs" >8435</text>
<text x="440.3" y="354.09999999999997" font-size="5.9" text-anchor="middle" fill="#303030" stroke="#303030" stroke-width="0.06" font-weight="normal" textLength="11.68" lengthAdjust="spacingAndGlyphs" >.001</text>
<line x1="137.2" y1="361.7" x2="139.7" y2="361.7" stroke="#333" stroke-width="1" />
<text x="134.2" y="363.65" font-size="6.2" text-anchor="end" fill="#303030" stroke="#303030" stroke-width="0.08" font-weight="normal" textLength="45.85" lengthAdjust="spacingAndGlyphs" >Isolated silent CH</text>
<line x1="154.17945906730438" y1="361.7" x2="236.99513509238764" y2="361.7" stroke="#474747" stroke-width="1.1" />
<line x1="154.17945906730438" y1="360.2" x2="154.17945906730438" y2="363.2" stroke="#444" stroke-width="0.9" />
<line x1="236.99513509238764" y1="360.2" x2="236.99513509238764" y2="363.2" stroke="#444" stroke-width="0.9" />
<rect x="192.58" y="359.4" width="4.6" height="4.6" fill="#cd0a2c" />
<text x="334.9" y="363.59999999999997" font-size="5.7" text-anchor="middle" fill="#303030" stroke="#303030" stroke-width="0.06" font-weight="normal" textLength="41.8" lengthAdjust="spacingAndGlyphs" >1.31 (0.77-2.27)</text>
<text x="394.6" y="363.59999999999997" font-size="5.9" text-anchor="middle" fill="#303030" stroke="#303030" stroke-width="0.06" font-weight="normal" textLength="13.35" lengthAdjust="spacingAndGlyphs" >2870</text>
<text x="440.3" y="363.59999999999997" font-size="5.9" text-anchor="middle" fill="#303030" stroke="#303030" stroke-width="0.06" font-weight="normal" textLength="11.68" lengthAdjust="spacingAndGlyphs" >.032</text>
<line x1="137.2" y1="371.0" x2="139.7" y2="371.0" stroke="#333" stroke-width="1" />
<text x="134.2" y="372.95" font-size="6.2" text-anchor="end" fill="#303030" stroke="#303030" stroke-width="0.08" font-weight="normal" textLength="12.03" lengthAdjust="spacingAndGlyphs" >Both</text>
<line x1="222.14688380437354" y1="371.0" x2="281.3417130936731" y2="371.0" stroke="#474747" stroke-width="1.1" />
<line x1="222.14688380437354" y1="369.5" x2="222.14688380437354" y2="372.5" stroke="#444" stroke-width="0.9" />
<line x1="281.3417130936731" y1="369.5" x2="281.3417130936731" y2="372.5" stroke="#444" stroke-width="0.9" />
<rect x="249.39" y="368.7" width="4.6" height="4.6" fill="#5a2d6e" />
<text x="334.9" y="372.9" font-size="5.7" text-anchor="middle" fill="#303030" stroke="#303030" stroke-width="0.06" font-weight="normal" textLength="41.8" lengthAdjust="spacingAndGlyphs" >2.75 (1.87-4.05)</text>
<text x="394.6" y="372.9" font-size="5.9" text-anchor="middle" fill="#303030" stroke="#303030" stroke-width="0.06" font-weight="normal" textLength="13.35" lengthAdjust="spacingAndGlyphs" >3300</text>
<text x="440.3" y="372.9" font-size="5.9" text-anchor="middle" fill="#303030" stroke="#303030" stroke-width="0.06" font-weight="normal" textLength="16.85" lengthAdjust="spacingAndGlyphs" >&lt; .001</text>
<line x1="139.7" y1="383.8" x2="139.7" y2="441.3" stroke="#333" stroke-width="1" />
<line x1="139.2" y1="440.8" x2="297.2" y2="440.8" stroke="#333" stroke-width="1" />
<line x1="174.1" y1="440.8" x2="174.1" y2="443.40000000000003" stroke="#333" stroke-width="1" />
<line x1="227.6" y1="440.8" x2="227.6" y2="443.40000000000003" stroke="#333" stroke-width="1" />
<line x1="280.8" y1="440.8" x2="280.8" y2="443.40000000000003" stroke="#333" stroke-width="1" />
<line x1="174.2" y1="383.8" x2="174.2" y2="440.8" stroke="#222" stroke-width="1.0" stroke-dasharray="2.5,2.6"/>
<line x1="137.2" y1="389.5" x2="139.7" y2="389.5" stroke="#333" stroke-width="1" />
<text x="134.2" y="391.45" font-size="6.2" text-anchor="end" fill="#303030" stroke="#303030" stroke-width="0.08" font-weight="normal" textLength="56.91" lengthAdjust="spacingAndGlyphs" >1 conventional variant</text>
<line x1="186.8784059873821" y1="389.5" x2="237.66706922556693" y2="389.5" stroke="#474747" stroke-width="1.1" />
<line x1="186.8784059873821" y1="388.0" x2="186.8784059873821" y2="391.0" stroke="#444" stroke-width="0.9" />
<line x1="237.66706922556693" y1="388.0" x2="237.66706922556693" y2="391.0" stroke="#444" stroke-width="0.9" />
<rect x="210.26" y="387.2" width="4.6" height="4.6" fill="#114b8a" />
<text x="334.9" y="391.4" font-size="5.7" text-anchor="middle" fill="#303030" stroke="#303030" stroke-width="0.06" font-weight="normal" textLength="41.8" lengthAdjust="spacingAndGlyphs" >1.65 (1.18-2.29)</text>
<text x="394.6" y="391.4" font-size="5.9" text-anchor="middle" fill="#303030" stroke="#303030" stroke-width="0.06" font-weight="normal" textLength="13.35" lengthAdjust="spacingAndGlyphs" >7864</text>
<text x="440.3" y="391.4" font-size="5.9" text-anchor="middle" fill="#303030" stroke="#303030" stroke-width="0.06" font-weight="normal" textLength="11.68" lengthAdjust="spacingAndGlyphs" >.003</text>
<line x1="137.2" y1="398.8" x2="139.7" y2="398.8" stroke="#333" stroke-width="1" />
<text x="134.2" y="400.75" font-size="6.2" text-anchor="end" fill="#303030" stroke="#303030" stroke-width="0.08" font-weight="normal" textLength="37.72" lengthAdjust="spacingAndGlyphs" >1 silent variant</text>
<line x1="177.20430662754134" y1="398.8" x2="230.29938065843314" y2="398.8" stroke="#474747" stroke-width="1.1" />
<line x1="177.20430662754134" y1="397.3" x2="177.20430662754134" y2="400.3" stroke="#444" stroke-width="0.9" />
<line x1="230.29938065843314" y1="397.3" x2="230.29938065843314" y2="400.3" stroke="#444" stroke-width="0.9" />
<rect x="201.41" y="396.5" width="4.6" height="4.6" fill="#cd0a2c" />
<text x="334.9" y="400.7" font-size="5.7" text-anchor="middle" fill="#303030" stroke="#303030" stroke-width="0.06" font-weight="normal" textLength="41.8" lengthAdjust="spacingAndGlyphs" >1.47 (1.04-2.08)</text>
<text x="394.6" y="400.7" font-size="5.9" text-anchor="middle" fill="#303030" stroke="#303030" stroke-width="0.06" font-weight="normal" textLength="13.35" lengthAdjust="spacingAndGlyphs" >5018</text>
<text x="440.3" y="400.7" font-size="5.9" text-anchor="middle" fill="#303030" stroke="#303030" stroke-width="0.06" font-weight="normal" textLength="8.34" lengthAdjust="spacingAndGlyphs" >.03</text>
<line x1="137.2" y1="408.1" x2="139.7" y2="408.1" stroke="#333" stroke-width="1" />
<text x="134.2" y="410.05" font-size="6.2" text-anchor="end" fill="#303030" stroke="#303030" stroke-width="0.08" font-weight="normal" textLength="34.14" lengthAdjust="spacingAndGlyphs" >Any 1 variant</text>
<line x1="177.93732657537848" y1="408.1" x2="231.75847239318836" y2="408.1" stroke="#474747" stroke-width="1.1" />
<line x1="177.93732657537848" y1="406.6" x2="177.93732657537848" y2="409.6" stroke="#444" stroke-width="0.9" />
<line x1="231.75847239318836" y1="406.6" x2="231.75847239318836" y2="409.6" stroke="#444" stroke-width="0.9" />
<rect x="202.45" y="405.8" width="4.6" height="4.6" fill="#5a2d6e" />
<text x="334.9" y="410.0" font-size="5.7" text-anchor="middle" fill="#303030" stroke="#303030" stroke-width="0.06" font-weight="normal" textLength="41.8" lengthAdjust="spacingAndGlyphs" >1.49 (1.05-2.12)</text>
<text x="394.6" y="410.0" font-size="5.9" text-anchor="middle" fill="#303030" stroke="#303030" stroke-width="0.06" font-weight="normal" textLength="13.35" lengthAdjust="spacingAndGlyphs" >8494</text>
<text x="440.3" y="410.0" font-size="5.9" text-anchor="middle" fill="#303030" stroke="#303030" stroke-width="0.06" font-weight="normal" textLength="11.68" lengthAdjust="spacingAndGlyphs" >.026</text>
<line x1="137.2" y1="417.3" x2="139.7" y2="417.3" stroke="#333" stroke-width="1" />
<text x="134.2" y="419.25" font-size="6.2" text-anchor="end" fill="#303030" stroke="#303030" stroke-width="0.08" font-weight="normal" textLength="63.25" lengthAdjust="spacingAndGlyphs" >2+ conventional variants</text>
<line x1="218.36858370568592" y1="417.3" x2="272.7439103791662" y2="417.3" stroke="#474747" stroke-width="1.1" />
<line x1="218.36858370568592" y1="415.8" x2="218.36858370568592" y2="418.8" stroke="#444" stroke-width="0.9" />
<line x1="272.7439103791662" y1="415.8" x2="272.7439103791662" y2="418.8" stroke="#444" stroke-width="0.9" />
<rect x="243.30" y="415.0" width="4.6" height="4.6" fill="#114b8a" />
<text x="334.9" y="419.2" font-size="5.7" text-anchor="middle" fill="#303030" stroke="#303030" stroke-width="0.06" font-weight="normal" textLength="41.8" lengthAdjust="spacingAndGlyphs" >2.54 (1.78-3.62)</text>
<text x="394.6" y="419.2" font-size="5.9" text-anchor="middle" fill="#303030" stroke="#303030" stroke-width="0.06" font-weight="normal" textLength="13.35" lengthAdjust="spacingAndGlyphs" >3871</text>
<text x="440.3" y="419.2" font-size="5.9" text-anchor="middle" fill="#303030" stroke="#303030" stroke-width="0.06" font-weight="normal" textLength="16.85" lengthAdjust="spacingAndGlyphs" >&lt; .001</text>
<line x1="137.2" y1="426.5" x2="139.7" y2="426.5" stroke="#333" stroke-width="1" />
<text x="134.2" y="428.45" font-size="6.2" text-anchor="end" fill="#303030" stroke="#303030" stroke-width="0.08" font-weight="normal" textLength="44.06" lengthAdjust="spacingAndGlyphs" >2+ silent variants</text>
<line x1="204.2304239236434" y1="426.5" x2="281.90702931267094" y2="426.5" stroke="#474747" stroke-width="1.1" />
<line x1="204.2304239236434" y1="425.0" x2="204.2304239236434" y2="428.0" stroke="#444" stroke-width="0.9" />
<line x1="281.90702931267094" y1="425.0" x2="281.90702931267094" y2="428.0" stroke="#444" stroke-width="0.9" />
<rect x="240.85" y="424.2" width="4.6" height="4.6" fill="#cd0a2c" />
<text x="334.9" y="428.4" font-size="5.7" text-anchor="middle" fill="#303030" stroke="#303030" stroke-width="0.06" font-weight="normal" textLength="41.8" lengthAdjust="spacingAndGlyphs" >2.46 (1.48-4.08)</text>
<text x="394.6" y="428.4" font-size="5.9" text-anchor="middle" fill="#303030" stroke="#303030" stroke-width="0.06" font-weight="normal" textLength="12.9" lengthAdjust="spacingAndGlyphs" >1152</text>
<text x="440.3" y="428.4" font-size="5.9" text-anchor="middle" fill="#303030" stroke="#303030" stroke-width="0.06" font-weight="normal" textLength="16.85" lengthAdjust="spacingAndGlyphs" >&lt; .001</text>
<line x1="137.2" y1="435.9" x2="139.7" y2="435.9" stroke="#333" stroke-width="1" />
<text x="134.2" y="437.84999999999997" font-size="6.2" text-anchor="end" fill="#303030" stroke="#303030" stroke-width="0.08" font-weight="normal" textLength="40.48" lengthAdjust="spacingAndGlyphs" >Any 2+ variants</text>
<line x1="217.06656935585335" y1="435.9" x2="268.8371147081145" y2="435.9" stroke="#474747" stroke-width="1.1" />
<line x1="217.06656935585335" y1="434.4" x2="217.06656935585335" y2="437.4" stroke="#444" stroke-width="0.9" />
<line x1="268.8371147081145" y1="434.4" x2="268.8371147081145" y2="437.4" stroke="#444" stroke-width="0.9" />
<rect x="240.54" y="433.59999999999997" width="4.6" height="4.6" fill="#5a2d6e" />
<text x="334.9" y="437.79999999999995" font-size="5.7" text-anchor="middle" fill="#303030" stroke="#303030" stroke-width="0.06" font-weight="normal" textLength="41.8" lengthAdjust="spacingAndGlyphs" >2.45 (1.75-3.44)</text>
<text x="394.6" y="437.79999999999995" font-size="5.9" text-anchor="middle" fill="#303030" stroke="#303030" stroke-width="0.06" font-weight="normal" textLength="12.46" lengthAdjust="spacingAndGlyphs" >6111</text>
<text x="440.3" y="437.79999999999995" font-size="5.9" text-anchor="middle" fill="#303030" stroke="#303030" stroke-width="0.06" font-weight="normal" textLength="16.85" lengthAdjust="spacingAndGlyphs" >&lt; .001</text>
<line x1="139.7" y1="449.5" x2="139.7" y2="506.8" stroke="#333" stroke-width="1" />
<line x1="139.2" y1="506.3" x2="297.2" y2="506.3" stroke="#333" stroke-width="1" />
<line x1="174.1" y1="506.3" x2="174.1" y2="508.90000000000003" stroke="#333" stroke-width="1" />
<line x1="227.6" y1="506.3" x2="227.6" y2="508.90000000000003" stroke="#333" stroke-width="1" />
<line x1="280.8" y1="506.3" x2="280.8" y2="508.90000000000003" stroke="#333" stroke-width="1" />
<line x1="174.2" y1="449.5" x2="174.2" y2="506.3" stroke="#222" stroke-width="1.0" stroke-dasharray="2.5,2.6"/>
<line x1="137.2" y1="454.8" x2="139.7" y2="454.8" stroke="#333" stroke-width="1" />
<text x="134.2" y="456.75" font-size="6.2" text-anchor="end" fill="#303030" stroke="#303030" stroke-width="0.08" font-weight="normal" textLength="65.25" lengthAdjust="spacingAndGlyphs" >Conventional VAF 1-10%</text>
<line x1="185.56897239205972" y1="454.8" x2="234.24685825725615" y2="454.8" stroke="#474747" stroke-width="1.1" />
<line x1="185.56897239205972" y1="453.3" x2="185.56897239205972" y2="456.3" stroke="#444" stroke-width="0.9" />
<line x1="234.24685825725615" y1="453.3" x2="234.24685825725615" y2="456.3" stroke="#444" stroke-width="0.9" />
<rect x="207.42" y="452.5" width="4.6" height="4.6" fill="#114b8a" />
<text x="334.9" y="456.7" font-size="5.7" text-anchor="middle" fill="#303030" stroke="#303030" stroke-width="0.06" font-weight="normal" textLength="41.8" lengthAdjust="spacingAndGlyphs" >1.59 (1.16-2.19)</text>
<text x="394.6" y="456.7" font-size="5.9" text-anchor="middle" fill="#303030" stroke="#303030" stroke-width="0.06" font-weight="normal" textLength="13.35" lengthAdjust="spacingAndGlyphs" >8665</text>
<text x="440.3" y="456.7" font-size="5.9" text-anchor="middle" fill="#303030" stroke="#303030" stroke-width="0.06" font-weight="normal" textLength="11.68" lengthAdjust="spacingAndGlyphs" >.005</text>
<line x1="137.2" y1="463.9" x2="139.7" y2="463.9" stroke="#333" stroke-width="1" />
<text x="134.2" y="465.84999999999997" font-size="6.2" text-anchor="end" fill="#303030" stroke="#303030" stroke-width="0.08" font-weight="normal" textLength="45.74" lengthAdjust="spacingAndGlyphs" >Silent VAF 1-10%</text>
<line x1="165.2735096747941" y1="463.9" x2="223.3660076808054" y2="463.9" stroke="#474747" stroke-width="1.1" />
<line x1="165.2735096747941" y1="462.4" x2="165.2735096747941" y2="465.4" stroke="#444" stroke-width="0.9" />
<line x1="223.3660076808054" y1="462.4" x2="223.3660076808054" y2="465.4" stroke="#444" stroke-width="0.9" />
<rect x="192.00" y="461.59999999999997" width="4.6" height="4.6" fill="#cd0a2c" />
<text x="334.9" y="465.79999999999995" font-size="5.7" text-anchor="middle" fill="#303030" stroke="#303030" stroke-width="0.06" font-weight="normal" textLength="41.8" lengthAdjust="spacingAndGlyphs" >1.30 (0.89-1.90)</text>
<text x="394.6" y="465.79999999999995" font-size="5.9" text-anchor="middle" fill="#303030" stroke="#303030" stroke-width="0.06" font-weight="normal" textLength="13.35" lengthAdjust="spacingAndGlyphs" >4519</text>
<text x="440.3" y="465.79999999999995" font-size="5.9" text-anchor="middle" fill="#303030" stroke="#303030" stroke-width="0.06" font-weight="normal" textLength="8.34" lengthAdjust="spacingAndGlyphs" >.17</text>
<line x1="137.2" y1="473.1" x2="139.7" y2="473.1" stroke="#333" stroke-width="1" />
<text x="134.2" y="475.05" font-size="6.2" text-anchor="end" fill="#303030" stroke="#303030" stroke-width="0.08" font-weight="normal" textLength="41.18" lengthAdjust="spacingAndGlyphs" >Any VAF 1-10%</text>
<line x1="180.8012115320646" y1="473.1" x2="231.0324006062703" y2="473.1" stroke="#474747" stroke-width="1.1" />
<line x1="180.8012115320646" y1="471.6" x2="180.8012115320646" y2="474.6" stroke="#444" stroke-width="0.9" />
<line x1="231.0324006062703" y1="471.6" x2="231.0324006062703" y2="474.6" stroke="#444" stroke-width="0.9" />
<rect x="203.47" y="470.8" width="4.6" height="4.6" fill="#5a2d6e" />
<text x="334.9" y="475.0" font-size="5.7" text-anchor="middle" fill="#303030" stroke="#303030" stroke-width="0.06" font-weight="normal" textLength="41.8" lengthAdjust="spacingAndGlyphs" >1.51 (1.09-2.10)</text>
<text x="394.6" y="475.0" font-size="5.9" text-anchor="middle" fill="#303030" stroke="#303030" stroke-width="0.06" font-weight="normal" textLength="16.68" lengthAdjust="spacingAndGlyphs" >10401</text>
<text x="440.3" y="475.0" font-size="5.9" text-anchor="middle" fill="#303030" stroke="#303030" stroke-width="0.06" font-weight="normal" textLength="11.68" lengthAdjust="spacingAndGlyphs" >.013</text>
<line x1="137.2" y1="482.3" x2="139.7" y2="482.3" stroke="#333" stroke-width="1" />
<text x="134.2" y="484.25" font-size="6.2" text-anchor="end" fill="#303030" stroke="#303030" stroke-width="0.08" font-weight="normal" textLength="63.47" lengthAdjust="spacingAndGlyphs" >Conventional VAF &gt;10%</text>
<line x1="227.67711971063738" y1="482.3" x2="285.0339940929225" y2="482.3" stroke="#474747" stroke-width="1.1" />
<line x1="227.67711971063738" y1="480.8" x2="227.67711971063738" y2="483.8" stroke="#444" stroke-width="0.9" />
<line x1="285.0339940929225" y1="480.8" x2="285.0339940929225" y2="483.8" stroke="#444" stroke-width="0.9" />
<rect x="254.25" y="480.0" width="4.6" height="4.6" fill="#114b8a" />
<text x="334.9" y="484.2" font-size="5.7" text-anchor="middle" fill="#303030" stroke="#303030" stroke-width="0.06" font-weight="normal" textLength="41.8" lengthAdjust="spacingAndGlyphs" >2.93 (2.01-4.25)</text>
<text x="394.6" y="484.2" font-size="5.9" text-anchor="middle" fill="#303030" stroke="#303030" stroke-width="0.06" font-weight="normal" textLength="13.35" lengthAdjust="spacingAndGlyphs" >3070</text>
<text x="440.3" y="484.2" font-size="5.9" text-anchor="middle" fill="#303030" stroke="#303030" stroke-width="0.06" font-weight="normal" textLength="16.85" lengthAdjust="spacingAndGlyphs" >&lt; .001</text>
<line x1="137.2" y1="491.4" x2="139.7" y2="491.4" stroke="#333" stroke-width="1" />
<text x="134.2" y="493.34999999999997" font-size="6.2" text-anchor="end" fill="#303030" stroke="#303030" stroke-width="0.08" font-weight="normal" textLength="43.95" lengthAdjust="spacingAndGlyphs" >Silent VAF &gt;10%</text>
<line x1="215.7420406772227" y1="491.4" x2="281.5306157788049" y2="491.4" stroke="#474747" stroke-width="1.1" />
<line x1="215.7420406772227" y1="489.9" x2="215.7420406772227" y2="492.9" stroke="#444" stroke-width="0.9" />
<line x1="281.5306157788049" y1="489.9" x2="281.5306157788049" y2="492.9" stroke="#444" stroke-width="0.9" />
<rect x="246.26" y="489.09999999999997" width="4.6" height="4.6" fill="#cd0a2c" />
<text x="334.9" y="493.29999999999995" font-size="5.7" text-anchor="middle" fill="#303030" stroke="#303030" stroke-width="0.06" font-weight="normal" textLength="41.8" lengthAdjust="spacingAndGlyphs" >2.64 (1.72-4.06)</text>
<text x="394.6" y="493.29999999999995" font-size="5.9" text-anchor="middle" fill="#303030" stroke="#303030" stroke-width="0.06" font-weight="normal" textLength="13.35" lengthAdjust="spacingAndGlyphs" >1651</text>
<text x="440.3" y="493.29999999999995" font-size="5.9" text-anchor="middle" fill="#303030" stroke="#303030" stroke-width="0.06" font-weight="normal" textLength="16.85" lengthAdjust="spacingAndGlyphs" >&lt; .001</text>
<line x1="137.2" y1="500.8" x2="139.7" y2="500.8" stroke="#333" stroke-width="1" />
<text x="134.2" y="502.75" font-size="6.2" text-anchor="end" fill="#303030" stroke="#303030" stroke-width="0.08" font-weight="normal" textLength="39.4" lengthAdjust="spacingAndGlyphs" >Any VAF &gt;10%</text>
<line x1="226.1373693746421" y1="500.8" x2="281.5306157788049" y2="500.8" stroke="#474747" stroke-width="1.1" />
<line x1="226.1373693746421" y1="499.3" x2="226.1373693746421" y2="502.3" stroke="#444" stroke-width="0.9" />
<line x1="281.5306157788049" y1="499.3" x2="281.5306157788049" y2="502.3" stroke="#444" stroke-width="0.9" />
<rect x="251.59" y="498.5" width="4.6" height="4.6" fill="#5a2d6e" />
<text x="334.9" y="502.7" font-size="5.7" text-anchor="middle" fill="#303030" stroke="#303030" stroke-width="0.06" font-weight="normal" textLength="41.8" lengthAdjust="spacingAndGlyphs" >2.83 (1.97-4.06)</text>
<text x="394.6" y="502.7" font-size="5.9" text-anchor="middle" fill="#303030" stroke="#303030" stroke-width="0.06" font-weight="normal" textLength="13.35" lengthAdjust="spacingAndGlyphs" >4204</text>
<text x="440.3" y="502.7" font-size="5.9" text-anchor="middle" fill="#303030" stroke="#303030" stroke-width="0.06" font-weight="normal" textLength="16.85" lengthAdjust="spacingAndGlyphs" >&lt; .001</text>
<text x="174.1" y="517.5" font-size="6.45" text-anchor="middle" fill="#303030" stroke="#303030" stroke-width="0.08" font-weight="normal" textLength="3.39" lengthAdjust="spacingAndGlyphs" >1</text>
<text x="227.6" y="517.5" font-size="6.45" text-anchor="middle" fill="#303030" stroke="#303030" stroke-width="0.08" font-weight="normal" textLength="3.39" lengthAdjust="spacingAndGlyphs" >2</text>
<text x="280.8" y="517.5" font-size="6.45" text-anchor="middle" fill="#303030" stroke="#303030" stroke-width="0.08" font-weight="normal" textLength="3.39" lengthAdjust="spacingAndGlyphs" >3</text>
<text x="218.3" y="527.7" font-size="7.2" text-anchor="middle" fill="#303030" stroke="#303030" stroke-width="0" font-weight="bold" textLength="83" lengthAdjust="spacingAndGlyphs" >Hazard ratio for heme malignancy</text>
<text x="335.5" y="342.2" font-size="5.8" text-anchor="middle" fill="#303030" stroke="#303030" stroke-width="0.08" font-weight="normal" textLength="33.9" lengthAdjust="spacingAndGlyphs" >HR (95% CI)</text>
<text x="394.9" y="342.2" font-size="5.8" text-anchor="middle" fill="#303030" stroke="#303030" stroke-width="0.08" font-weight="normal" textLength="26" lengthAdjust="spacingAndGlyphs" ># Patients</text>
<text x="440.5" y="342.2" font-size="5.8" text-anchor="middle" fill="#303030" stroke="#303030" stroke-width="0.08" font-weight="normal" textLength="18.5" lengthAdjust="spacingAndGlyphs" ><tspan font-style="italic">P</tspan>-value</text>
<line x1="305.8" y1="346.4" x2="462.8" y2="346.4" stroke="#222" stroke-width="0.9" />
<line x1="369.7" y1="336.0" x2="369.7" y2="505.8" stroke="#484848" stroke-width="1.1" />
<line x1="419.4" y1="336.0" x2="419.4" y2="505.8" stroke="#484848" stroke-width="1.1" />
<rect x="0.5" y="0.5" width="519" height="536" fill="none" stroke="#686868" stroke-width="1"/>
</svg>
</body></html>
